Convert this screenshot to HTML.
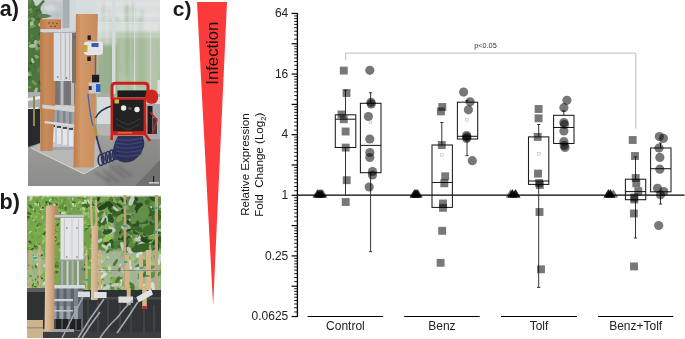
<!DOCTYPE html>
<html><head><meta charset="utf-8">
<style>
html,body{margin:0;padding:0;background:#fff;}
body{width:685px;height:339px;position:relative;overflow:hidden;font-family:"Liberation Sans",sans-serif;}
.pl{font-family:"Liberation Sans",sans-serif;font-size:21px;font-weight:bold;fill:#1a1a1a;}
svg{position:absolute;left:0;top:0;}
.t12{font-family:"Liberation Sans",sans-serif;font-size:12px;fill:#222;}
.tp{font-family:"Liberation Sans",sans-serif;font-size:7.3px;fill:#333;}
.ttl{font-family:"Liberation Sans",sans-serif;font-size:11.6px;fill:#111;}
.m{fill:#000;fill-opacity:0.53;}
.bx{fill:none;stroke:#1a1a1a;stroke-width:1.05;}
.ln{stroke:#1a1a1a;stroke-width:1.05;}
.wl{stroke:#2a2a2a;stroke-width:0.95;}
</style></head><body>
<svg width="685" height="339" viewBox="0 0 685 339" style="position:absolute;left:0;top:0">
<defs>
<clipPath id="ca"><rect x="28" y="0" width="132" height="186"/></clipPath>
<filter id="fa" x="-5%" y="-5%" width="110%" height="110%"><feGaussianBlur stdDeviation="0.55"/></filter>
<filter id="fa2" x="-20%" y="-20%" width="140%" height="140%"><feGaussianBlur stdDeviation="1.6"/></filter>
<linearGradient id="gbgA" x1="0" y1="0" x2="0" y2="1">
<stop offset="0" stop-color="#d8dedf"/><stop offset="0.18" stop-color="#cfd8d4"/><stop offset="0.35" stop-color="#bfcdbd"/><stop offset="0.52" stop-color="#aabd9f"/><stop offset="1" stop-color="#9fb393"/>
</linearGradient>
<linearGradient id="gtab" x1="0" y1="0" x2="0" y2="1">
<stop offset="0" stop-color="#a3a3a1"/><stop offset="1" stop-color="#8c8c8a"/>
</linearGradient>
<linearGradient id="gwood" x1="0" y1="0" x2="1" y2="0">
<stop offset="0" stop-color="#bb784a"/><stop offset="0.35" stop-color="#ca8c5c"/><stop offset="1" stop-color="#bf7f51"/>
</linearGradient>
<linearGradient id="gwood2" x1="0" y1="0" x2="1" y2="0">
<stop offset="0" stop-color="#bd7b4d"/><stop offset="0.3" stop-color="#d19868"/><stop offset="1" stop-color="#c88b5c"/>
</linearGradient>
</defs>
<g clip-path="url(#ca)" filter="url(#fa)">
<rect x="28" y="0" width="132" height="186" fill="url(#gbgA)"/>
<g filter="url(#fa2)">
<rect x="38" y="0" width="26" height="30" fill="#c3c8cc"/>
<ellipse cx="50" cy="8" rx="6" ry="3" fill="#d6dadc"/>
<ellipse cx="58" cy="15" rx="5" ry="2.5" fill="#b7bdc2"/>
<rect x="96" y="0" width="64" height="20" fill="#d9dfde"/>
<rect x="116" y="32" width="44" height="63" fill="#b3c4a9"/>
<rect x="97" y="45" width="20" height="50" fill="#9bb091"/>
<rect x="119.4" y="19.5" width="1.8" height="53.3" fill="#8aa878" opacity="0.35"/>
<rect x="132.2" y="1.7" width="2.2" height="72.8" fill="#8aa878" opacity="0.35"/>
<rect x="102.2" y="2.1" width="2.4" height="54.1" fill="#8aa878" opacity="0.35"/>
<rect x="125.5" y="3.7" width="3.2" height="60.0" fill="#8aa878" opacity="0.35"/>
<rect x="137.6" y="17.3" width="3.4" height="67.9" fill="#8aa878" opacity="0.35"/>
<rect x="158.6" y="25.8" width="1.6" height="63.0" fill="#8aa878" opacity="0.35"/>
<rect x="108.7" y="9.3" width="1.7" height="86.7" fill="#8aa878" opacity="0.35"/>
<rect x="110.8" y="19.2" width="2.7" height="66.8" fill="#8aa878" opacity="0.35"/>
<rect x="132.9" y="1.8" width="1.6" height="59.3" fill="#8aa878" opacity="0.35"/>
<rect x="140.8" y="9.4" width="2.4" height="76.4" fill="#8aa878" opacity="0.35"/>
<rect x="127.2" y="23.8" width="2.1" height="81.5" fill="#8aa878" opacity="0.35"/>
<rect x="114.6" y="15.8" width="2.6" height="89.4" fill="#8aa878" opacity="0.35"/>
<rect x="143.8" y="29.4" width="2.1" height="55.3" fill="#8aa878" opacity="0.35"/>
<rect x="125.1" y="4.6" width="3.0" height="72.0" fill="#8aa878" opacity="0.35"/>
<rect x="96" y="3.5" width="64" height="1.5" fill="#eef1f0" opacity="0.6"/>
<rect x="96" y="27.4" width="64" height="1.5" fill="#eef1f0" opacity="0.6"/>
<rect x="96" y="31.1" width="64" height="1.5" fill="#eef1f0" opacity="0.6"/>
<rect x="96" y="23.8" width="64" height="1.5" fill="#eef1f0" opacity="0.6"/>
<rect x="96" y="35.3" width="64" height="1.5" fill="#eef1f0" opacity="0.6"/>
<rect x="96" y="13.9" width="64" height="1.5" fill="#eef1f0" opacity="0.6"/>
<rect x="96" y="28.4" width="64" height="1.5" fill="#eef1f0" opacity="0.6"/>
<rect x="96" y="24.6" width="64" height="1.5" fill="#eef1f0" opacity="0.6"/>
</g>
<rect x="134" y="0" width="1.2" height="95" fill="#dfe3e2" opacity="0.7"/>
<rect x="150" y="0" width="1.2" height="95" fill="#dfe3e2" opacity="0.6"/>
<rect x="97" y="22" width="63" height="1.2" fill="#e6e9e8" opacity="0.6"/>
<rect x="62.7" y="0" width="7" height="30" fill="#a9b0b5"/>
<rect x="69.7" y="0" width="6" height="30" fill="#d3d8da"/>
<rect x="112" y="0" width="3.5" height="96" fill="#d5dadb"/>
<rect x="157.5" y="80" width="2.5" height="40" fill="#dcdfe0"/>
<rect x="97" y="95" width="63" height="30" fill="#d8dbdc"/>
<rect x="97" y="94" width="63" height="3" fill="#a8b0a8"/>
<rect x="28" y="0" width="12.5" height="100" fill="#4d7440"/>
<ellipse cx="36.1" cy="43.3" rx="3.4" ry="2.0" transform="rotate(85 36.1 43.3)" fill="#a9bfa0"/>
<ellipse cx="28.9" cy="69.5" rx="2.2" ry="1.1" transform="rotate(123 28.9 69.5)" fill="#38602e"/>
<ellipse cx="32.0" cy="36.7" rx="3.0" ry="1.1" transform="rotate(83 32.0 36.7)" fill="#5b8549"/>
<ellipse cx="36.6" cy="46.9" rx="2.0" ry="0.8" transform="rotate(133 36.6 46.9)" fill="#38602e"/>
<ellipse cx="33.5" cy="82.8" rx="1.7" ry="0.8" transform="rotate(99 33.5 82.8)" fill="#5b8549"/>
<ellipse cx="39.5" cy="82.1" rx="2.1" ry="1.0" transform="rotate(65 39.5 82.1)" fill="#38602e"/>
<ellipse cx="41.4" cy="14.3" rx="1.9" ry="0.8" transform="rotate(42 41.4 14.3)" fill="#38602e"/>
<ellipse cx="39.6" cy="17.3" rx="2.1" ry="0.8" transform="rotate(96 39.6 17.3)" fill="#86a872"/>
<ellipse cx="35.9" cy="90.5" rx="3.1" ry="1.5" transform="rotate(111 35.9 90.5)" fill="#a9bfa0"/>
<ellipse cx="38.4" cy="43.4" rx="3.5" ry="2.1" transform="rotate(123 38.4 43.4)" fill="#86a872"/>
<ellipse cx="33.5" cy="37.9" rx="1.7" ry="0.9" transform="rotate(11 33.5 37.9)" fill="#46703a"/>
<ellipse cx="41.8" cy="41.9" rx="1.8" ry="0.9" transform="rotate(18 41.8 41.9)" fill="#86a872"/>
<ellipse cx="30.1" cy="9.6" rx="2.3" ry="0.8" transform="rotate(157 30.1 9.6)" fill="#86a872"/>
<ellipse cx="33.3" cy="60.3" rx="3.7" ry="1.9" transform="rotate(85 33.3 60.3)" fill="#46703a"/>
<ellipse cx="39.9" cy="94.3" rx="2.6" ry="1.2" transform="rotate(15 39.9 94.3)" fill="#46703a"/>
<ellipse cx="38.5" cy="70.3" rx="2.6" ry="1.4" transform="rotate(93 38.5 70.3)" fill="#5b8549"/>
<ellipse cx="41.3" cy="50.2" rx="1.8" ry="0.9" transform="rotate(5 41.3 50.2)" fill="#86a872"/>
<ellipse cx="32.2" cy="61.1" rx="1.7" ry="1.0" transform="rotate(93 32.2 61.1)" fill="#5b8549"/>
<ellipse cx="33.0" cy="21.2" rx="2.7" ry="1.3" transform="rotate(115 33.0 21.2)" fill="#86a872"/>
<ellipse cx="39.4" cy="93.6" rx="3.5" ry="1.9" transform="rotate(147 39.4 93.6)" fill="#a9bfa0"/>
<ellipse cx="39.2" cy="19.0" rx="2.6" ry="1.4" transform="rotate(178 39.2 19.0)" fill="#3a5e30"/>
<ellipse cx="31.9" cy="24.6" rx="3.1" ry="1.8" transform="rotate(81 31.9 24.6)" fill="#a9bfa0"/>
<ellipse cx="41.8" cy="90.7" rx="2.3" ry="0.9" transform="rotate(41 41.8 90.7)" fill="#5b8549"/>
<ellipse cx="32.7" cy="45.9" rx="3.8" ry="1.9" transform="rotate(0 32.7 45.9)" fill="#a9bfa0"/>
<ellipse cx="32.8" cy="61.1" rx="3.4" ry="1.3" transform="rotate(70 32.8 61.1)" fill="#a9bfa0"/>
<ellipse cx="38.5" cy="45.4" rx="1.9" ry="1.0" transform="rotate(60 38.5 45.4)" fill="#3a5e30"/>
<ellipse cx="41.2" cy="68.6" rx="2.6" ry="1.4" transform="rotate(15 41.2 68.6)" fill="#5b8549"/>
<ellipse cx="30.4" cy="12.1" rx="1.8" ry="1.1" transform="rotate(145 30.4 12.1)" fill="#5b8549"/>
<ellipse cx="36.6" cy="56.6" rx="2.6" ry="1.5" transform="rotate(28 36.6 56.6)" fill="#86a872"/>
<ellipse cx="29.8" cy="1.4" rx="3.7" ry="1.9" transform="rotate(95 29.8 1.4)" fill="#5b8549"/>
<ellipse cx="34.1" cy="82.8" rx="3.4" ry="1.4" transform="rotate(45 34.1 82.8)" fill="#6f9a58"/>
<ellipse cx="35.0" cy="72.5" rx="2.2" ry="1.1" transform="rotate(150 35.0 72.5)" fill="#46703a"/>
<ellipse cx="40.7" cy="33.6" rx="2.6" ry="1.3" transform="rotate(163 40.7 33.6)" fill="#38602e"/>
<ellipse cx="39.6" cy="83.4" rx="1.8" ry="0.7" transform="rotate(92 39.6 83.4)" fill="#3a5e30"/>
<ellipse cx="34.2" cy="17.4" rx="1.5" ry="0.8" transform="rotate(31 34.2 17.4)" fill="#38602e"/>
<ellipse cx="36.7" cy="11.4" rx="1.6" ry="0.9" transform="rotate(96 36.7 11.4)" fill="#38602e"/>
<ellipse cx="39.0" cy="10.1" rx="2.8" ry="1.1" transform="rotate(50 39.0 10.1)" fill="#3a5e30"/>
<ellipse cx="29.4" cy="43.0" rx="1.6" ry="0.9" transform="rotate(11 29.4 43.0)" fill="#6f9a58"/>
<ellipse cx="36.6" cy="48.0" rx="2.7" ry="1.4" transform="rotate(81 36.6 48.0)" fill="#86a872"/>
<ellipse cx="39.3" cy="48.2" rx="2.1" ry="1.0" transform="rotate(158 39.3 48.2)" fill="#6f9a58"/>
<ellipse cx="40.9" cy="84.8" rx="2.0" ry="0.9" transform="rotate(75 40.9 84.8)" fill="#38602e"/>
<ellipse cx="34.2" cy="6.9" rx="2.1" ry="0.8" transform="rotate(121 34.2 6.9)" fill="#3a5e30"/>
<ellipse cx="29.7" cy="73.8" rx="3.7" ry="1.9" transform="rotate(66 29.7 73.8)" fill="#6f9a58"/>
<ellipse cx="40.4" cy="91.9" rx="2.0" ry="1.2" transform="rotate(72 40.4 91.9)" fill="#38602e"/>
<ellipse cx="30.3" cy="63.4" rx="2.0" ry="1.1" transform="rotate(179 30.3 63.4)" fill="#38602e"/>
<ellipse cx="32.7" cy="18.6" rx="2.2" ry="1.2" transform="rotate(4 32.7 18.6)" fill="#86a872"/>
<ellipse cx="34.4" cy="66.8" rx="2.4" ry="1.1" transform="rotate(53 34.4 66.8)" fill="#46703a"/>
<ellipse cx="29.6" cy="87.3" rx="2.0" ry="1.2" transform="rotate(15 29.6 87.3)" fill="#6f9a58"/>
<ellipse cx="28.6" cy="74.0" rx="2.1" ry="0.8" transform="rotate(76 28.6 74.0)" fill="#a9bfa0"/>
<ellipse cx="39.5" cy="24.6" rx="1.8" ry="1.1" transform="rotate(103 39.5 24.6)" fill="#a9bfa0"/>
<ellipse cx="32.6" cy="26.5" rx="3.3" ry="1.3" transform="rotate(161 32.6 26.5)" fill="#6f9a58"/>
<ellipse cx="41.1" cy="60.3" rx="3.3" ry="1.2" transform="rotate(154 41.1 60.3)" fill="#46703a"/>
<ellipse cx="31.7" cy="11.6" rx="1.5" ry="0.9" transform="rotate(75 31.7 11.6)" fill="#6f9a58"/>
<ellipse cx="36.7" cy="4.1" rx="3.1" ry="1.8" transform="rotate(174 36.7 4.1)" fill="#6f9a58"/>
<ellipse cx="28.7" cy="19.2" rx="2.2" ry="0.9" transform="rotate(137 28.7 19.2)" fill="#6f9a58"/>
<ellipse cx="34.2" cy="63.9" rx="2.1" ry="1.2" transform="rotate(179 34.2 63.9)" fill="#46703a"/>
<ellipse cx="28.2" cy="69.6" rx="2.8" ry="1.1" transform="rotate(85 28.2 69.6)" fill="#38602e"/>
<ellipse cx="29.5" cy="77.8" rx="2.5" ry="1.2" transform="rotate(150 29.5 77.8)" fill="#38602e"/>
<ellipse cx="41.6" cy="29.2" rx="2.0" ry="0.8" transform="rotate(36 41.6 29.2)" fill="#a9bfa0"/>
<ellipse cx="38.2" cy="13.3" rx="3.8" ry="2.2" transform="rotate(151 38.2 13.3)" fill="#46703a"/>
<path d="M33 0 L44 0 L42 4 L36 6Z" fill="#c9d0d2"/>
<path d="M38 14 Q46 13 52 16 Q46 19 38 18Z" fill="#5a8048"/>
<path d="M36 8 Q40 3 43 0 L45 1 Q41 6 38 10Z" fill="#4d7440"/>
<rect x="28" y="92" width="13" height="16" fill="#a9aeae"/>
<path d="M28 98 L40 96 L40 99 L28 101Z M28 108 L38 107 L38 109 L28 110Z" fill="#e8ebec"/>
<rect x="28" y="109" width="12" height="40" fill="#2b2c2d"/>
<rect x="33" y="96" width="2" height="30" fill="#8c8a50"/>
<polygon points="28,147 40,143 95,124 160,124 160,186 28,186" fill="url(#gtab)"/>
<polygon points="97,124 160,124 160,138 140,136 110,136 97,135" fill="#b4b4b2"/>
<g filter="url(#fa2)"><polygon points="104,186 116,140 160,138 160,186" fill="#6a6a68" opacity="0.3"/></g>
<polygon points="136,186 160,161 160,186" fill="#6f6f6d"/>
<path d="M136 186 L160 161" stroke="#6e6e6c" stroke-width="1.3"/>
<polygon points="31,148 41,143 97,140 101,164 84,174" fill="#b8b8b6"/>
<path d="M31 148 L84 174 L101 164" stroke="#d8d8d6" stroke-width="1" fill="none"/>
<rect x="53" y="32" width="23" height="118" fill="#a3a7ab"/>
<rect x="53.5" y="32" width="21" height="49" fill="#d9dbde"/>
<rect x="60.2" y="33" width="0.9" height="47" fill="#aeb2b6"/><rect x="64.5" y="33" width="0.9" height="47" fill="#aeb2b6"/><rect x="69" y="33" width="0.9" height="47" fill="#aeb2b6"/>
<circle cx="57.5" cy="77" r="0.8" fill="#555"/><circle cx="66.5" cy="78" r="0.8" fill="#555"/>
<rect x="54" y="81" width="21" height="24" fill="#7b7774"/>
<rect x="55" y="81" width="2.5" height="24" fill="#6f757b"/><rect x="60.5" y="81" width="3" height="24" fill="#b9bec2"/><rect x="66" y="81" width="2.5" height="24" fill="#6f757b"/><rect x="71" y="81" width="3" height="24" fill="#b9bec2"/>
<polygon points="44,104 76,106 76,113 44,109" fill="#cfd1d2"/>
<rect x="50" y="110" width="26" height="12" fill="#9ca2a8"/>
<rect x="51" y="110" width="2.5" height="14" fill="#7f868d"/><rect x="57" y="110" width="2.5" height="15" fill="#7f868d"/><rect x="63" y="111" width="2.5" height="15" fill="#7f868d"/><rect x="69" y="112" width="2.5" height="15" fill="#7f868d"/>
<polygon points="45,121 76,125 76,128 45,124" fill="#d6d8d9"/>
<rect x="50" y="125" width="26" height="22" fill="#c3c7ca"/>
<rect x="51" y="126" width="4" height="16" fill="#e4e7e9"/><rect x="57" y="127" width="4" height="17" fill="#e4e7e9"/><rect x="63" y="128" width="4" height="17" fill="#e4e7e9"/><rect x="69" y="129" width="4" height="17" fill="#e4e7e9"/>
<rect x="51" y="125" width="4" height="2" fill="#4a4e52"/><rect x="57" y="126" width="4" height="2" fill="#4a4e52"/><rect x="63" y="127" width="4" height="2" fill="#4a4e52"/><rect x="69" y="128" width="4" height="2" fill="#4a4e52"/>
<polygon points="40.5,28.8 78,27.8 78,31.8 40.5,32.6" fill="#d3d6d9"/>
<polygon points="40.5,32.6 78,31.8 78,33 40.5,33.6" fill="#8e9296"/>
<rect x="40" y="19.3" width="21" height="9.8" fill="url(#gwood)"/>
<polygon points="40,33 55,33 55.5,81 55,104 52.5,151 40.5,151" fill="url(#gwood)"/>
<circle cx="49" cy="23" r="0.75" fill="#5b3b25"/>
<circle cx="53" cy="23" r="0.75" fill="#5b3b25"/>
<circle cx="57" cy="23.5" r="0.75" fill="#5b3b25"/>
<circle cx="51" cy="26.5" r="0.75" fill="#5b3b25"/>
<circle cx="55" cy="26.5" r="0.75" fill="#5b3b25"/>
<rect x="53.7" y="32.6" width="20.8" height="48.4" fill="#dcdee1"/>
<rect x="60.4" y="33" width="0.9" height="47" fill="#aeb2b6"/><rect x="64.8" y="33" width="0.9" height="47" fill="#aeb2b6"/><rect x="69.3" y="33" width="0.9" height="47" fill="#aeb2b6"/>
<circle cx="57.8" cy="77" r="0.8" fill="#555"/><circle cx="66.5" cy="78" r="0.8" fill="#555"/>
<polygon points="42.3,104.5 76.5,108.5 76.5,112.5 42.3,108.3" fill="#cfd1d2"/>
<polygon points="44.6,121 74,124.5 74,126.5 44.6,123.2" fill="#d6d8d9"/>
<polygon points="76,13.9 98,13.9 94,167.5 73.5,167.5" fill="url(#gwood2)"/>
<rect x="72" y="33" width="4" height="50" fill="#7d7264"/>
<rect x="73.5" y="36" width="2" height="3" fill="#3d62b5"/>
<rect x="84" y="41.5" width="19" height="13.5" rx="3" fill="#e3e5e8"/>
<rect x="82.5" y="45" width="5" height="7" rx="1" fill="#c9a23a"/>
<rect x="91.5" y="43" width="7" height="4" fill="#3e5ca8"/>
<rect x="87.6" y="35.4" width="3.2" height="4.5" fill="#1e1e20"/>
<rect x="87.3" y="56.5" width="3.5" height="4.5" fill="#1e1e20"/>
<path d="M95.5 55 C95.5 62 95.3 68 95.6 76" stroke="#3a64c0" stroke-width="1.3" fill="none"/>
<path d="M88 94 C89 105 90 115 93 126" stroke="#3a64c0" stroke-width="1.3" fill="none"/>
<rect x="92" y="74.8" width="7.2" height="8" fill="#1d1e22"/>
<rect x="88.7" y="82.4" width="11.8" height="11" fill="#c4cbd6"/>
<rect x="96" y="84" width="4.5" height="8" fill="#2f5fc0"/>
<rect x="88.7" y="86" width="3" height="4" fill="#333"/>
<polygon points="92.5,125 95.5,124 98,136 95,137" fill="#b88e3e"/>
<path d="M96.5 136 C98 145 101 152 104 160" stroke="#2a2f55" stroke-width="1.6" fill="none"/>
<path d="M113 105.5 C104 108 98 112 95.5 118" stroke="#2a2f55" stroke-width="1.3" fill="none"/>
<rect x="117.4" y="90.4" width="29.4" height="7" fill="#1c1c1e"/>
<path d="M112 99 L112 86.5 Q112 83.3 115.5 83.3 L144.5 83.3 Q148 83.3 148 86.5 L148 99" stroke="#c9221d" stroke-width="3" fill="none"/>
<rect x="145.5" y="89.8" width="12.5" height="14" rx="5.5" fill="#cf2722"/>
<rect x="147" y="104" width="13" height="35" fill="#a7abad"/>
<rect x="147.5" y="106" width="5" height="28" fill="#1c1c1e"/>
<rect x="153" y="118" width="4" height="16" fill="#3a3b3d"/>
<path d="M150 112 L157 120 L152 134" stroke="#c9221d" stroke-width="1.5" fill="none"/>
<path d="M145 104 L145 134 L150 141" stroke="#c9221d" stroke-width="2.6" fill="none"/>
<rect x="110.6" y="97.4" width="35.6" height="38" fill="#c9221d"/>
<rect x="113" y="99.8" width="30.6" height="31.4" fill="#202022"/>
<path d="M116 119 L128 125 L140 119 M116 124 L128 130 L140 124" stroke="#3c3c3e" stroke-width="1" fill="none"/>
<circle cx="123.6" cy="108" r="2.7" fill="#ececec"/><circle cx="137" cy="109.5" r="2.7" fill="#ececec"/><circle cx="130" cy="108.5" r="1.8" fill="#505052"/>
<rect x="114.5" y="99.5" width="4.5" height="4" fill="#dcb52c"/>
<rect x="118" y="132.2" width="14" height="1.2" fill="#e87b34"/>
<rect x="110.4" y="135" width="2.6" height="5" fill="#c9221d"/>
<path d="M118 136 L143 136 L144 146 Q141 158 130 162 Q120 164 114 157 Q111 148 118 136Z" fill="#2e3358"/>
<ellipse cx="101.0" cy="160.0" rx="2.8" ry="5.5" fill="none" stroke="#2b305a" stroke-width="1.7"/>
<ellipse cx="104.6" cy="158.5" rx="2.8" ry="5.5" fill="none" stroke="#2b305a" stroke-width="1.7"/>
<ellipse cx="108.2" cy="157.0" rx="2.8" ry="5.5" fill="none" stroke="#2b305a" stroke-width="1.7"/>
<ellipse cx="111.8" cy="155.5" rx="2.8" ry="5.5" fill="none" stroke="#2b305a" stroke-width="1.7"/>
<ellipse cx="115.4" cy="154.0" rx="2.8" ry="5.5" fill="none" stroke="#2b305a" stroke-width="1.7"/>
<ellipse cx="119.0" cy="152.5" rx="2.8" ry="5.5" fill="none" stroke="#2b305a" stroke-width="1.7"/>
<ellipse cx="122.6" cy="151.0" rx="2.8" ry="5.5" fill="none" stroke="#2b305a" stroke-width="1.7"/>
<ellipse cx="126.2" cy="149.5" rx="2.8" ry="5.5" fill="none" stroke="#2b305a" stroke-width="1.7"/>
<ellipse cx="129.8" cy="148.0" rx="2.8" ry="5.5" fill="none" stroke="#2b305a" stroke-width="1.7"/>
<ellipse cx="133.4" cy="146.5" rx="2.8" ry="5.5" fill="none" stroke="#2b305a" stroke-width="1.7"/>
<ellipse cx="137.0" cy="145.0" rx="2.8" ry="5.5" fill="none" stroke="#2b305a" stroke-width="1.7"/>
<ellipse cx="140.6" cy="143.5" rx="2.8" ry="5.5" fill="none" stroke="#2b305a" stroke-width="1.7"/>
<path d="M116 139.0 Q128 142.0 142 138.0" stroke="#4b5385" stroke-width="1" fill="none" opacity="0.8"/>
<path d="M116 143.0 Q128 146.0 142 142.0" stroke="#4b5385" stroke-width="1" fill="none" opacity="0.8"/>
<path d="M116 147.0 Q128 150.0 142 146.0" stroke="#4b5385" stroke-width="1" fill="none" opacity="0.8"/>
<path d="M116 151.0 Q128 154.0 142 150.0" stroke="#4b5385" stroke-width="1" fill="none" opacity="0.8"/>
<path d="M116 155.0 Q128 158.0 142 154.0" stroke="#4b5385" stroke-width="1" fill="none" opacity="0.8"/>
<g filter="url(#fa2)"><path d="M95 172 L110 182 M103 170 L118 182 M110 166 L126 178 M118 166 L132 176" stroke="#5e5e5e" stroke-width="2.5" opacity="0.55"/></g>
<rect x="153" y="176" width="1.2" height="8" fill="#1e1e1e"/>
<rect x="149" y="182" width="10" height="1.6" fill="#c9c9c9"/>
</g></svg>
<svg width="685" height="339" viewBox="0 0 685 339" style="position:absolute;left:0;top:0">
<defs>
<clipPath id="cb"><rect x="27" y="195" width="134" height="143"/></clipPath>
<filter id="fb" x="-5%" y="-5%" width="110%" height="110%"><feGaussianBlur stdDeviation="0.5"/></filter>
<filter id="fb2" x="-20%" y="-20%" width="140%" height="140%"><feGaussianBlur stdDeviation="1.5"/></filter>
<linearGradient id="gwoodb" x1="0" y1="0" x2="1" y2="0">
<stop offset="0" stop-color="#e2c6a4"/><stop offset="0.45" stop-color="#d4ad84"/><stop offset="1" stop-color="#b3835b"/>
</linearGradient>
<linearGradient id="gwoodc" x1="0" y1="0" x2="1" y2="0">
<stop offset="0" stop-color="#e3c6a2"/><stop offset="1" stop-color="#c9a27c"/>
</linearGradient>
</defs>
<g clip-path="url(#cb)" filter="url(#fb)">
<rect x="27" y="195" width="134" height="143" fill="#76a04e"/>
<g filter="url(#fb2)">
<rect x="27" y="195" width="32" height="95" fill="#7aa84f"/>
<rect x="98" y="195" width="63" height="55" fill="#5e8446"/>
<rect x="98" y="250" width="63" height="42" fill="#a3b397"/>
<rect x="103" y="212" width="10" height="26" fill="#b9c4b2"/>
<rect x="127" y="214" width="11" height="24" fill="#a6b59c"/>
<rect x="27" y="250" width="18" height="40" fill="#9db487"/>
</g>
<ellipse cx="29.3" cy="265.4" rx="1.5" ry="0.6" transform="rotate(15 29.3 265.4)" fill="#35622a"/>
<ellipse cx="55.7" cy="258.7" rx="1.6" ry="0.6" transform="rotate(53 55.7 258.7)" fill="#6ea443"/>
<ellipse cx="33.1" cy="220.6" rx="1.0" ry="0.4" transform="rotate(59 33.1 220.6)" fill="#8cbc5a"/>
<ellipse cx="35.1" cy="286.7" rx="1.6" ry="0.7" transform="rotate(0 35.1 286.7)" fill="#35622a"/>
<ellipse cx="29.8" cy="221.5" rx="2.3" ry="1.0" transform="rotate(140 29.8 221.5)" fill="#7fb24c"/>
<ellipse cx="35.7" cy="203.5" rx="1.8" ry="0.6" transform="rotate(4 35.7 203.5)" fill="#c6d8b8"/>
<ellipse cx="47.8" cy="203.0" rx="2.9" ry="1.6" transform="rotate(28 47.8 203.0)" fill="#35622a"/>
<ellipse cx="52.2" cy="263.5" rx="2.0" ry="0.8" transform="rotate(111 52.2 263.5)" fill="#9cc66c"/>
<ellipse cx="28.4" cy="274.4" rx="2.8" ry="1.4" transform="rotate(132 28.4 274.4)" fill="#9cc66c"/>
<ellipse cx="57.0" cy="266.5" rx="2.1" ry="1.2" transform="rotate(3 57.0 266.5)" fill="#3f7429"/>
<ellipse cx="29.8" cy="199.0" rx="2.3" ry="1.3" transform="rotate(68 29.8 199.0)" fill="#6ea443"/>
<ellipse cx="45.4" cy="254.6" rx="2.3" ry="1.2" transform="rotate(88 45.4 254.6)" fill="#5f9438"/>
<ellipse cx="42.1" cy="201.7" rx="2.9" ry="1.6" transform="rotate(17 42.1 201.7)" fill="#7fb24c"/>
<ellipse cx="51.6" cy="240.0" rx="2.6" ry="1.5" transform="rotate(42 51.6 240.0)" fill="#3f7429"/>
<ellipse cx="34.6" cy="256.7" rx="1.9" ry="1.1" transform="rotate(14 34.6 256.7)" fill="#c6d8b8"/>
<ellipse cx="52.3" cy="253.6" rx="2.3" ry="0.8" transform="rotate(27 52.3 253.6)" fill="#c6d8b8"/>
<ellipse cx="48.5" cy="260.8" rx="2.2" ry="0.9" transform="rotate(87 48.5 260.8)" fill="#6ea443"/>
<ellipse cx="35.9" cy="258.8" rx="2.4" ry="1.2" transform="rotate(52 35.9 258.8)" fill="#c6d8b8"/>
<ellipse cx="42.3" cy="239.3" rx="1.2" ry="0.7" transform="rotate(36 42.3 239.3)" fill="#7fb24c"/>
<ellipse cx="57.9" cy="196.7" rx="1.9" ry="1.1" transform="rotate(174 57.9 196.7)" fill="#6ea443"/>
<ellipse cx="59.8" cy="231.8" rx="2.8" ry="1.7" transform="rotate(13 59.8 231.8)" fill="#7fb24c"/>
<ellipse cx="31.7" cy="244.8" rx="2.9" ry="1.1" transform="rotate(148 31.7 244.8)" fill="#c6d8b8"/>
<ellipse cx="56.3" cy="261.8" rx="1.5" ry="0.8" transform="rotate(88 56.3 261.8)" fill="#5f9438"/>
<ellipse cx="32.2" cy="285.2" rx="2.4" ry="1.1" transform="rotate(131 32.2 285.2)" fill="#35622a"/>
<ellipse cx="38.4" cy="225.0" rx="2.7" ry="0.9" transform="rotate(135 38.4 225.0)" fill="#35622a"/>
<ellipse cx="31.0" cy="283.0" rx="2.4" ry="1.4" transform="rotate(52 31.0 283.0)" fill="#8cbc5a"/>
<ellipse cx="29.1" cy="232.1" rx="2.7" ry="1.0" transform="rotate(167 29.1 232.1)" fill="#c6d8b8"/>
<ellipse cx="55.2" cy="221.7" rx="1.1" ry="0.6" transform="rotate(114 55.2 221.7)" fill="#9cc66c"/>
<ellipse cx="35.2" cy="220.2" rx="2.0" ry="0.8" transform="rotate(67 35.2 220.2)" fill="#35622a"/>
<ellipse cx="56.2" cy="272.1" rx="2.3" ry="1.3" transform="rotate(169 56.2 272.1)" fill="#3f7429"/>
<ellipse cx="50.7" cy="199.7" rx="2.5" ry="1.1" transform="rotate(135 50.7 199.7)" fill="#c6d8b8"/>
<ellipse cx="43.0" cy="281.6" rx="2.1" ry="0.8" transform="rotate(75 43.0 281.6)" fill="#c6d8b8"/>
<ellipse cx="36.8" cy="265.2" rx="3.0" ry="1.2" transform="rotate(118 36.8 265.2)" fill="#c6d8b8"/>
<ellipse cx="42.9" cy="258.5" rx="1.2" ry="0.6" transform="rotate(14 42.9 258.5)" fill="#6ea443"/>
<ellipse cx="45.2" cy="238.0" rx="1.7" ry="0.9" transform="rotate(77 45.2 238.0)" fill="#3f7429"/>
<ellipse cx="35.1" cy="211.6" rx="2.1" ry="0.9" transform="rotate(66 35.1 211.6)" fill="#3f7429"/>
<ellipse cx="56.3" cy="266.2" rx="1.8" ry="0.8" transform="rotate(94 56.3 266.2)" fill="#35622a"/>
<ellipse cx="35.9" cy="266.5" rx="2.0" ry="1.0" transform="rotate(65 35.9 266.5)" fill="#3f7429"/>
<ellipse cx="30.1" cy="280.2" rx="1.8" ry="0.9" transform="rotate(78 30.1 280.2)" fill="#c6d8b8"/>
<ellipse cx="55.0" cy="277.9" rx="1.0" ry="0.4" transform="rotate(128 55.0 277.9)" fill="#6ea443"/>
<ellipse cx="59.0" cy="241.5" rx="1.1" ry="0.7" transform="rotate(167 59.0 241.5)" fill="#6ea443"/>
<ellipse cx="59.1" cy="218.6" rx="1.2" ry="0.5" transform="rotate(94 59.1 218.6)" fill="#7fb24c"/>
<ellipse cx="58.1" cy="263.6" rx="2.3" ry="1.2" transform="rotate(82 58.1 263.6)" fill="#5f9438"/>
<ellipse cx="27.0" cy="206.9" rx="2.1" ry="0.8" transform="rotate(129 27.0 206.9)" fill="#9cc66c"/>
<ellipse cx="47.7" cy="245.2" rx="1.9" ry="1.0" transform="rotate(18 47.7 245.2)" fill="#c6d8b8"/>
<ellipse cx="44.3" cy="250.4" rx="1.8" ry="0.7" transform="rotate(108 44.3 250.4)" fill="#5f9438"/>
<ellipse cx="44.7" cy="289.7" rx="1.6" ry="0.7" transform="rotate(151 44.7 289.7)" fill="#3f7429"/>
<ellipse cx="42.7" cy="217.3" rx="1.5" ry="0.9" transform="rotate(127 42.7 217.3)" fill="#c6d8b8"/>
<ellipse cx="28.8" cy="213.4" rx="2.8" ry="1.4" transform="rotate(15 28.8 213.4)" fill="#3f7429"/>
<ellipse cx="49.0" cy="282.9" rx="1.5" ry="0.5" transform="rotate(61 49.0 282.9)" fill="#35622a"/>
<ellipse cx="39.0" cy="232.7" rx="1.0" ry="0.4" transform="rotate(152 39.0 232.7)" fill="#7fb24c"/>
<ellipse cx="33.8" cy="287.1" rx="1.6" ry="0.9" transform="rotate(42 33.8 287.1)" fill="#3f7429"/>
<ellipse cx="35.7" cy="279.5" rx="1.2" ry="0.6" transform="rotate(110 35.7 279.5)" fill="#3f7429"/>
<ellipse cx="43.0" cy="281.5" rx="1.1" ry="0.6" transform="rotate(166 43.0 281.5)" fill="#5f9438"/>
<ellipse cx="34.0" cy="287.5" rx="1.3" ry="0.5" transform="rotate(11 34.0 287.5)" fill="#35622a"/>
<ellipse cx="41.8" cy="262.6" rx="1.6" ry="0.6" transform="rotate(14 41.8 262.6)" fill="#9cc66c"/>
<ellipse cx="37.9" cy="212.6" rx="2.9" ry="1.5" transform="rotate(6 37.9 212.6)" fill="#35622a"/>
<ellipse cx="54.7" cy="288.6" rx="1.9" ry="0.7" transform="rotate(14 54.7 288.6)" fill="#7fb24c"/>
<ellipse cx="38.6" cy="285.8" rx="1.2" ry="0.7" transform="rotate(37 38.6 285.8)" fill="#8cbc5a"/>
<ellipse cx="52.4" cy="224.3" rx="2.6" ry="1.0" transform="rotate(127 52.4 224.3)" fill="#3f7429"/>
<ellipse cx="39.3" cy="282.4" rx="1.4" ry="0.6" transform="rotate(161 39.3 282.4)" fill="#5f9438"/>
<ellipse cx="47.8" cy="218.6" rx="2.3" ry="1.0" transform="rotate(68 47.8 218.6)" fill="#6ea443"/>
<ellipse cx="29.1" cy="282.4" rx="1.5" ry="0.8" transform="rotate(162 29.1 282.4)" fill="#8cbc5a"/>
<ellipse cx="39.0" cy="226.8" rx="2.9" ry="1.0" transform="rotate(134 39.0 226.8)" fill="#8cbc5a"/>
<ellipse cx="57.5" cy="223.3" rx="2.4" ry="1.2" transform="rotate(145 57.5 223.3)" fill="#7fb24c"/>
<ellipse cx="27.8" cy="217.2" rx="2.0" ry="1.1" transform="rotate(172 27.8 217.2)" fill="#35622a"/>
<ellipse cx="53.1" cy="281.8" rx="2.6" ry="1.0" transform="rotate(89 53.1 281.8)" fill="#5f9438"/>
<ellipse cx="53.5" cy="265.2" rx="2.6" ry="1.4" transform="rotate(109 53.5 265.2)" fill="#8cbc5a"/>
<ellipse cx="55.4" cy="238.8" rx="2.6" ry="1.3" transform="rotate(92 55.4 238.8)" fill="#35622a"/>
<ellipse cx="51.8" cy="218.5" rx="1.1" ry="0.4" transform="rotate(99 51.8 218.5)" fill="#8cbc5a"/>
<ellipse cx="32.3" cy="235.5" rx="1.2" ry="0.4" transform="rotate(112 32.3 235.5)" fill="#3f7429"/>
<ellipse cx="30.2" cy="242.4" rx="2.4" ry="1.1" transform="rotate(42 30.2 242.4)" fill="#35622a"/>
<ellipse cx="42.2" cy="279.7" rx="1.5" ry="0.7" transform="rotate(139 42.2 279.7)" fill="#7fb24c"/>
<ellipse cx="52.7" cy="222.9" rx="1.6" ry="0.6" transform="rotate(46 52.7 222.9)" fill="#c6d8b8"/>
<ellipse cx="33.6" cy="218.5" rx="1.5" ry="0.6" transform="rotate(159 33.6 218.5)" fill="#3f7429"/>
<ellipse cx="37.8" cy="232.6" rx="3.0" ry="1.4" transform="rotate(42 37.8 232.6)" fill="#7fb24c"/>
<ellipse cx="48.6" cy="289.1" rx="1.2" ry="0.6" transform="rotate(147 48.6 289.1)" fill="#6ea443"/>
<ellipse cx="57.2" cy="198.8" rx="1.6" ry="0.6" transform="rotate(34 57.2 198.8)" fill="#3f7429"/>
<ellipse cx="57.7" cy="230.4" rx="2.7" ry="1.3" transform="rotate(47 57.7 230.4)" fill="#5f9438"/>
<ellipse cx="30.5" cy="251.6" rx="2.2" ry="0.9" transform="rotate(66 30.5 251.6)" fill="#9cc66c"/>
<ellipse cx="28.5" cy="290.0" rx="1.1" ry="0.6" transform="rotate(165 28.5 290.0)" fill="#5f9438"/>
<ellipse cx="54.0" cy="233.9" rx="1.7" ry="0.9" transform="rotate(14 54.0 233.9)" fill="#5f9438"/>
<ellipse cx="53.2" cy="247.1" rx="1.1" ry="0.4" transform="rotate(71 53.2 247.1)" fill="#9cc66c"/>
<ellipse cx="48.1" cy="203.7" rx="1.3" ry="0.7" transform="rotate(74 48.1 203.7)" fill="#c6d8b8"/>
<ellipse cx="49.0" cy="234.7" rx="1.1" ry="0.6" transform="rotate(159 49.0 234.7)" fill="#35622a"/>
<ellipse cx="40.7" cy="277.1" rx="3.0" ry="1.3" transform="rotate(35 40.7 277.1)" fill="#35622a"/>
<ellipse cx="33.7" cy="195.6" rx="2.8" ry="1.3" transform="rotate(148 33.7 195.6)" fill="#35622a"/>
<ellipse cx="46.1" cy="229.6" rx="2.5" ry="1.0" transform="rotate(9 46.1 229.6)" fill="#9cc66c"/>
<ellipse cx="48.1" cy="281.4" rx="1.2" ry="0.6" transform="rotate(67 48.1 281.4)" fill="#9cc66c"/>
<ellipse cx="31.8" cy="221.9" rx="2.0" ry="1.2" transform="rotate(20 31.8 221.9)" fill="#6ea443"/>
<ellipse cx="51.9" cy="270.3" rx="2.6" ry="1.1" transform="rotate(151 51.9 270.3)" fill="#5f9438"/>
<ellipse cx="59.2" cy="240.9" rx="1.1" ry="0.6" transform="rotate(70 59.2 240.9)" fill="#9cc66c"/>
<ellipse cx="48.1" cy="276.4" rx="2.2" ry="1.1" transform="rotate(35 48.1 276.4)" fill="#6ea443"/>
<ellipse cx="33.0" cy="215.7" rx="1.8" ry="0.9" transform="rotate(69 33.0 215.7)" fill="#7fb24c"/>
<ellipse cx="31.9" cy="287.2" rx="2.6" ry="1.0" transform="rotate(159 31.9 287.2)" fill="#5f9438"/>
<ellipse cx="49.0" cy="225.8" rx="1.8" ry="0.8" transform="rotate(153 49.0 225.8)" fill="#c6d8b8"/>
<ellipse cx="48.4" cy="224.3" rx="1.5" ry="0.7" transform="rotate(66 48.4 224.3)" fill="#6ea443"/>
<ellipse cx="32.9" cy="195.3" rx="3.0" ry="1.4" transform="rotate(80 32.9 195.3)" fill="#6ea443"/>
<ellipse cx="54.6" cy="272.0" rx="1.8" ry="0.7" transform="rotate(65 54.6 272.0)" fill="#8cbc5a"/>
<ellipse cx="30.0" cy="237.0" rx="2.0" ry="0.7" transform="rotate(115 30.0 237.0)" fill="#7fb24c"/>
<ellipse cx="57.4" cy="224.8" rx="2.4" ry="0.9" transform="rotate(135 57.4 224.8)" fill="#35622a"/>
<ellipse cx="48.5" cy="269.5" rx="1.1" ry="0.4" transform="rotate(111 48.5 269.5)" fill="#7fb24c"/>
<ellipse cx="33.4" cy="288.3" rx="2.0" ry="1.2" transform="rotate(165 33.4 288.3)" fill="#9cc66c"/>
<ellipse cx="49.6" cy="263.5" rx="1.4" ry="0.8" transform="rotate(110 49.6 263.5)" fill="#c6d8b8"/>
<ellipse cx="32.2" cy="280.2" rx="1.5" ry="0.9" transform="rotate(26 32.2 280.2)" fill="#6ea443"/>
<ellipse cx="33.9" cy="220.0" rx="2.0" ry="0.9" transform="rotate(7 33.9 220.0)" fill="#9cc66c"/>
<ellipse cx="40.3" cy="255.5" rx="1.6" ry="0.7" transform="rotate(68 40.3 255.5)" fill="#c6d8b8"/>
<ellipse cx="30.8" cy="245.4" rx="2.3" ry="1.0" transform="rotate(157 30.8 245.4)" fill="#7fb24c"/>
<ellipse cx="35.3" cy="245.9" rx="2.7" ry="1.5" transform="rotate(67 35.3 245.9)" fill="#35622a"/>
<ellipse cx="59.7" cy="249.8" rx="1.7" ry="0.9" transform="rotate(80 59.7 249.8)" fill="#9cc66c"/>
<ellipse cx="47.3" cy="286.0" rx="1.6" ry="0.8" transform="rotate(56 47.3 286.0)" fill="#8cbc5a"/>
<ellipse cx="51.2" cy="266.0" rx="1.4" ry="0.6" transform="rotate(113 51.2 266.0)" fill="#35622a"/>
<ellipse cx="43.9" cy="280.1" rx="1.3" ry="0.5" transform="rotate(118 43.9 280.1)" fill="#5f9438"/>
<ellipse cx="28.8" cy="248.9" rx="1.6" ry="0.8" transform="rotate(96 28.8 248.9)" fill="#35622a"/>
<ellipse cx="46.3" cy="251.0" rx="1.4" ry="0.7" transform="rotate(85 46.3 251.0)" fill="#9cc66c"/>
<ellipse cx="27.5" cy="271.1" rx="2.4" ry="1.1" transform="rotate(11 27.5 271.1)" fill="#9cc66c"/>
<ellipse cx="55.8" cy="269.3" rx="1.8" ry="0.8" transform="rotate(2 55.8 269.3)" fill="#8cbc5a"/>
<ellipse cx="46.6" cy="250.0" rx="2.2" ry="1.1" transform="rotate(89 46.6 250.0)" fill="#9cc66c"/>
<ellipse cx="56.8" cy="199.2" rx="2.1" ry="0.9" transform="rotate(43 56.8 199.2)" fill="#5f9438"/>
<ellipse cx="57.1" cy="205.0" rx="2.2" ry="1.1" transform="rotate(36 57.1 205.0)" fill="#35622a"/>
<ellipse cx="33.6" cy="252.8" rx="2.0" ry="1.0" transform="rotate(146 33.6 252.8)" fill="#9cc66c"/>
<ellipse cx="43.8" cy="201.1" rx="2.3" ry="1.3" transform="rotate(130 43.8 201.1)" fill="#6ea443"/>
<ellipse cx="50.6" cy="195.6" rx="2.7" ry="1.4" transform="rotate(84 50.6 195.6)" fill="#6ea443"/>
<ellipse cx="32.8" cy="289.7" rx="1.5" ry="0.8" transform="rotate(22 32.8 289.7)" fill="#c6d8b8"/>
<ellipse cx="50.5" cy="220.3" rx="2.1" ry="1.0" transform="rotate(142 50.5 220.3)" fill="#c6d8b8"/>
<ellipse cx="36.8" cy="283.2" rx="2.8" ry="1.0" transform="rotate(91 36.8 283.2)" fill="#9cc66c"/>
<ellipse cx="35.6" cy="217.4" rx="2.5" ry="1.5" transform="rotate(134 35.6 217.4)" fill="#8cbc5a"/>
<ellipse cx="33.3" cy="231.9" rx="2.2" ry="1.0" transform="rotate(153 33.3 231.9)" fill="#6ea443"/>
<ellipse cx="42.6" cy="245.4" rx="1.0" ry="0.4" transform="rotate(172 42.6 245.4)" fill="#3f7429"/>
<ellipse cx="45.8" cy="224.2" rx="1.4" ry="0.7" transform="rotate(14 45.8 224.2)" fill="#9cc66c"/>
<ellipse cx="31.8" cy="197.6" rx="1.2" ry="0.7" transform="rotate(62 31.8 197.6)" fill="#9cc66c"/>
<ellipse cx="50.1" cy="197.9" rx="1.3" ry="0.7" transform="rotate(8 50.1 197.9)" fill="#7fb24c"/>
<ellipse cx="51.3" cy="201.2" rx="2.2" ry="1.0" transform="rotate(147 51.3 201.2)" fill="#7fb24c"/>
<ellipse cx="56.0" cy="266.8" rx="2.4" ry="1.1" transform="rotate(44 56.0 266.8)" fill="#3f7429"/>
<ellipse cx="30.7" cy="198.3" rx="2.7" ry="1.5" transform="rotate(114 30.7 198.3)" fill="#c6d8b8"/>
<ellipse cx="42.7" cy="207.6" rx="2.6" ry="1.3" transform="rotate(53 42.7 207.6)" fill="#8cbc5a"/>
<ellipse cx="41.0" cy="197.0" rx="1.5" ry="0.6" transform="rotate(129 41.0 197.0)" fill="#8cbc5a"/>
<ellipse cx="57.0" cy="268.1" rx="2.2" ry="1.0" transform="rotate(52 57.0 268.1)" fill="#5f9438"/>
<ellipse cx="53.0" cy="198.0" rx="2.0" ry="0.8" transform="rotate(84 53.0 198.0)" fill="#5f9438"/>
<ellipse cx="44.8" cy="215.6" rx="2.7" ry="1.0" transform="rotate(148 44.8 215.6)" fill="#9cc66c"/>
<ellipse cx="41.4" cy="244.7" rx="1.6" ry="0.8" transform="rotate(10 41.4 244.7)" fill="#8cbc5a"/>
<ellipse cx="43.2" cy="241.7" rx="2.6" ry="1.0" transform="rotate(89 43.2 241.7)" fill="#8cbc5a"/>
<ellipse cx="58.6" cy="243.9" rx="2.2" ry="0.8" transform="rotate(147 58.6 243.9)" fill="#3f7429"/>
<ellipse cx="43.4" cy="205.4" rx="2.3" ry="0.8" transform="rotate(142 43.4 205.4)" fill="#7fb24c"/>
<ellipse cx="47.7" cy="228.8" rx="1.8" ry="0.8" transform="rotate(160 47.7 228.8)" fill="#7fb24c"/>
<ellipse cx="40.9" cy="256.4" rx="1.7" ry="0.7" transform="rotate(77 40.9 256.4)" fill="#9cc66c"/>
<ellipse cx="39.5" cy="279.0" rx="1.5" ry="0.7" transform="rotate(96 39.5 279.0)" fill="#5f9438"/>
<ellipse cx="38.5" cy="226.0" rx="1.3" ry="0.7" transform="rotate(119 38.5 226.0)" fill="#8cbc5a"/>
<ellipse cx="32.6" cy="236.7" rx="2.5" ry="1.3" transform="rotate(23 32.6 236.7)" fill="#6ea443"/>
<ellipse cx="48.2" cy="261.2" rx="2.0" ry="0.8" transform="rotate(136 48.2 261.2)" fill="#9cc66c"/>
<ellipse cx="50.9" cy="287.6" rx="2.4" ry="1.2" transform="rotate(63 50.9 287.6)" fill="#3f7429"/>
<ellipse cx="37.8" cy="213.0" rx="3.0" ry="1.6" transform="rotate(18 37.8 213.0)" fill="#7fb24c"/>
<ellipse cx="33.4" cy="209.3" rx="1.3" ry="0.6" transform="rotate(54 33.4 209.3)" fill="#c6d8b8"/>
<ellipse cx="33.5" cy="255.6" rx="1.2" ry="0.5" transform="rotate(70 33.5 255.6)" fill="#5f9438"/>
<ellipse cx="27.4" cy="276.2" rx="1.9" ry="0.8" transform="rotate(177 27.4 276.2)" fill="#c6d8b8"/>
<ellipse cx="42.3" cy="208.5" rx="2.2" ry="1.0" transform="rotate(133 42.3 208.5)" fill="#35622a"/>
<ellipse cx="50.1" cy="250.8" rx="2.3" ry="1.3" transform="rotate(120 50.1 250.8)" fill="#3f7429"/>
<ellipse cx="49.4" cy="255.9" rx="1.9" ry="0.8" transform="rotate(113 49.4 255.9)" fill="#7fb24c"/>
<ellipse cx="56.5" cy="218.0" rx="1.8" ry="1.0" transform="rotate(28 56.5 218.0)" fill="#35622a"/>
<ellipse cx="42.9" cy="196.9" rx="2.7" ry="1.3" transform="rotate(119 42.9 196.9)" fill="#9cc66c"/>
<ellipse cx="56.5" cy="226.2" rx="1.0" ry="0.6" transform="rotate(163 56.5 226.2)" fill="#7fb24c"/>
<ellipse cx="28.3" cy="246.6" rx="1.3" ry="0.7" transform="rotate(169 28.3 246.6)" fill="#8cbc5a"/>
<ellipse cx="30.3" cy="249.6" rx="2.1" ry="1.1" transform="rotate(92 30.3 249.6)" fill="#8cbc5a"/>
<ellipse cx="44.2" cy="234.0" rx="2.9" ry="1.2" transform="rotate(123 44.2 234.0)" fill="#35622a"/>
<ellipse cx="44.0" cy="283.6" rx="2.5" ry="1.2" transform="rotate(115 44.0 283.6)" fill="#c6d8b8"/>
<ellipse cx="36.1" cy="233.0" rx="1.0" ry="0.5" transform="rotate(76 36.1 233.0)" fill="#8cbc5a"/>
<ellipse cx="46.1" cy="205.4" rx="1.6" ry="0.7" transform="rotate(172 46.1 205.4)" fill="#3f7429"/>
<ellipse cx="59.8" cy="286.3" rx="1.9" ry="0.8" transform="rotate(167 59.8 286.3)" fill="#7fb24c"/>
<ellipse cx="53.7" cy="255.3" rx="1.9" ry="1.0" transform="rotate(41 53.7 255.3)" fill="#9cc66c"/>
<ellipse cx="38.7" cy="255.7" rx="2.6" ry="1.5" transform="rotate(84 38.7 255.7)" fill="#c6d8b8"/>
<ellipse cx="52.1" cy="256.7" rx="2.6" ry="1.2" transform="rotate(141 52.1 256.7)" fill="#3f7429"/>
<ellipse cx="35.8" cy="230.7" rx="1.5" ry="0.7" transform="rotate(33 35.8 230.7)" fill="#5f9438"/>
<ellipse cx="53.6" cy="270.9" rx="1.7" ry="0.9" transform="rotate(58 53.6 270.9)" fill="#6ea443"/>
<ellipse cx="41.1" cy="255.5" rx="2.3" ry="1.0" transform="rotate(167 41.1 255.5)" fill="#35622a"/>
<ellipse cx="28.9" cy="273.7" rx="2.8" ry="1.5" transform="rotate(25 28.9 273.7)" fill="#8cbc5a"/>
<ellipse cx="47.9" cy="196.4" rx="1.0" ry="0.6" transform="rotate(118 47.9 196.4)" fill="#c6d8b8"/>
<ellipse cx="47.1" cy="250.0" rx="2.7" ry="1.1" transform="rotate(81 47.1 250.0)" fill="#9cc66c"/>
<ellipse cx="33.9" cy="233.2" rx="2.1" ry="1.0" transform="rotate(124 33.9 233.2)" fill="#7fb24c"/>
<ellipse cx="49.1" cy="279.9" rx="2.6" ry="1.4" transform="rotate(36 49.1 279.9)" fill="#3f7429"/>
<ellipse cx="44.5" cy="265.5" rx="1.9" ry="1.1" transform="rotate(100 44.5 265.5)" fill="#c6d8b8"/>
<ellipse cx="40.8" cy="273.6" rx="1.9" ry="1.0" transform="rotate(87 40.8 273.6)" fill="#9cc66c"/>
<ellipse cx="50.1" cy="218.4" rx="1.3" ry="0.7" transform="rotate(132 50.1 218.4)" fill="#9cc66c"/>
<ellipse cx="54.7" cy="239.5" rx="2.1" ry="1.1" transform="rotate(151 54.7 239.5)" fill="#8cbc5a"/>
<ellipse cx="41.1" cy="290.0" rx="2.4" ry="0.9" transform="rotate(65 41.1 290.0)" fill="#5f9438"/>
<ellipse cx="27.7" cy="199.4" rx="2.5" ry="1.5" transform="rotate(146 27.7 199.4)" fill="#7fb24c"/>
<ellipse cx="43.9" cy="241.0" rx="2.8" ry="1.0" transform="rotate(129 43.9 241.0)" fill="#9cc66c"/>
<ellipse cx="38.2" cy="276.9" rx="1.7" ry="0.8" transform="rotate(95 38.2 276.9)" fill="#3f7429"/>
<ellipse cx="36.4" cy="227.5" rx="1.5" ry="0.5" transform="rotate(52 36.4 227.5)" fill="#8cbc5a"/>
<ellipse cx="54.3" cy="233.4" rx="2.0" ry="0.8" transform="rotate(91 54.3 233.4)" fill="#3f7429"/>
<ellipse cx="48.6" cy="270.2" rx="1.7" ry="0.7" transform="rotate(54 48.6 270.2)" fill="#7fb24c"/>
<ellipse cx="52.9" cy="198.8" rx="2.4" ry="1.4" transform="rotate(98 52.9 198.8)" fill="#5f9438"/>
<ellipse cx="40.1" cy="205.3" rx="1.1" ry="0.6" transform="rotate(86 40.1 205.3)" fill="#5f9438"/>
<ellipse cx="53.0" cy="281.4" rx="2.2" ry="1.1" transform="rotate(113 53.0 281.4)" fill="#7fb24c"/>
<ellipse cx="34.0" cy="258.4" rx="1.9" ry="1.0" transform="rotate(18 34.0 258.4)" fill="#9cc66c"/>
<ellipse cx="55.7" cy="235.0" rx="1.2" ry="0.7" transform="rotate(2 55.7 235.0)" fill="#9cc66c"/>
<ellipse cx="53.0" cy="248.4" rx="1.5" ry="0.6" transform="rotate(76 53.0 248.4)" fill="#8cbc5a"/>
<ellipse cx="27.7" cy="248.8" rx="2.2" ry="1.2" transform="rotate(90 27.7 248.8)" fill="#5f9438"/>
<ellipse cx="54.2" cy="268.5" rx="1.8" ry="1.0" transform="rotate(73 54.2 268.5)" fill="#7fb24c"/>
<ellipse cx="27.5" cy="231.8" rx="2.2" ry="1.3" transform="rotate(177 27.5 231.8)" fill="#6ea443"/>
<ellipse cx="52.4" cy="247.1" rx="1.2" ry="0.5" transform="rotate(161 52.4 247.1)" fill="#5f9438"/>
<ellipse cx="41.1" cy="195.9" rx="2.3" ry="1.4" transform="rotate(155 41.1 195.9)" fill="#3f7429"/>
<ellipse cx="55.7" cy="207.3" rx="1.0" ry="0.5" transform="rotate(44 55.7 207.3)" fill="#9cc66c"/>
<ellipse cx="57.5" cy="229.8" rx="2.5" ry="1.3" transform="rotate(26 57.5 229.8)" fill="#7fb24c"/>
<ellipse cx="36.7" cy="248.0" rx="2.0" ry="1.0" transform="rotate(160 36.7 248.0)" fill="#5f9438"/>
<ellipse cx="50.7" cy="196.1" rx="1.0" ry="0.5" transform="rotate(147 50.7 196.1)" fill="#7fb24c"/>
<ellipse cx="39.8" cy="224.7" rx="2.2" ry="1.3" transform="rotate(150 39.8 224.7)" fill="#5f9438"/>
<ellipse cx="37.4" cy="285.1" rx="2.5" ry="1.1" transform="rotate(30 37.4 285.1)" fill="#7fb24c"/>
<ellipse cx="39.0" cy="256.3" rx="2.3" ry="1.0" transform="rotate(69 39.0 256.3)" fill="#6ea443"/>
<ellipse cx="58.2" cy="269.5" rx="2.1" ry="0.9" transform="rotate(11 58.2 269.5)" fill="#8cbc5a"/>
<ellipse cx="55.7" cy="263.9" rx="1.0" ry="0.4" transform="rotate(150 55.7 263.9)" fill="#35622a"/>
<ellipse cx="59.2" cy="218.4" rx="1.8" ry="0.8" transform="rotate(139 59.2 218.4)" fill="#3f7429"/>
<ellipse cx="53.6" cy="221.9" rx="1.0" ry="0.4" transform="rotate(76 53.6 221.9)" fill="#5f9438"/>
<ellipse cx="36.5" cy="208.4" rx="2.8" ry="1.7" transform="rotate(26 36.5 208.4)" fill="#6ea443"/>
<ellipse cx="38.4" cy="203.1" rx="2.1" ry="1.2" transform="rotate(36 38.4 203.1)" fill="#3f7429"/>
<ellipse cx="37.2" cy="200.5" rx="1.8" ry="0.9" transform="rotate(167 37.2 200.5)" fill="#5f9438"/>
<ellipse cx="53.1" cy="238.7" rx="1.2" ry="0.6" transform="rotate(139 53.1 238.7)" fill="#3f7429"/>
<ellipse cx="40.1" cy="244.5" rx="1.5" ry="0.8" transform="rotate(58 40.1 244.5)" fill="#3f7429"/>
<ellipse cx="33.2" cy="213.3" rx="1.4" ry="0.7" transform="rotate(65 33.2 213.3)" fill="#8cbc5a"/>
<ellipse cx="40.3" cy="244.1" rx="1.3" ry="0.5" transform="rotate(179 40.3 244.1)" fill="#8cbc5a"/>
<ellipse cx="55.6" cy="230.3" rx="1.9" ry="0.7" transform="rotate(57 55.6 230.3)" fill="#5f9438"/>
<ellipse cx="38.4" cy="244.3" rx="1.0" ry="0.4" transform="rotate(178 38.4 244.3)" fill="#6ea443"/>
<ellipse cx="46.4" cy="215.3" rx="2.9" ry="1.2" transform="rotate(17 46.4 215.3)" fill="#6ea443"/>
<ellipse cx="52.3" cy="272.8" rx="2.9" ry="1.2" transform="rotate(7 52.3 272.8)" fill="#3f7429"/>
<ellipse cx="59.8" cy="230.9" rx="1.1" ry="0.4" transform="rotate(67 59.8 230.9)" fill="#6ea443"/>
<ellipse cx="43.1" cy="275.3" rx="2.8" ry="1.6" transform="rotate(115 43.1 275.3)" fill="#7fb24c"/>
<ellipse cx="50.3" cy="203.5" rx="1.6" ry="0.7" transform="rotate(16 50.3 203.5)" fill="#35622a"/>
<ellipse cx="33.0" cy="275.7" rx="1.7" ry="0.7" transform="rotate(130 33.0 275.7)" fill="#9cc66c"/>
<ellipse cx="28.3" cy="219.3" rx="1.7" ry="1.0" transform="rotate(163 28.3 219.3)" fill="#5f9438"/>
<ellipse cx="35.5" cy="243.8" rx="2.5" ry="1.3" transform="rotate(87 35.5 243.8)" fill="#7fb24c"/>
<ellipse cx="31.8" cy="266.7" rx="2.9" ry="1.5" transform="rotate(54 31.8 266.7)" fill="#6ea443"/>
<ellipse cx="52.0" cy="205.0" rx="1.6" ry="0.7" transform="rotate(22 52.0 205.0)" fill="#6ea443"/>
<ellipse cx="39.5" cy="236.9" rx="2.6" ry="1.5" transform="rotate(161 39.5 236.9)" fill="#6ea443"/>
<ellipse cx="50.7" cy="213.5" rx="1.1" ry="0.6" transform="rotate(40 50.7 213.5)" fill="#8cbc5a"/>
<ellipse cx="56.3" cy="208.3" rx="1.9" ry="0.7" transform="rotate(167 56.3 208.3)" fill="#5f9438"/>
<ellipse cx="47.7" cy="238.0" rx="1.7" ry="0.9" transform="rotate(86 47.7 238.0)" fill="#8cbc5a"/>
<ellipse cx="31.7" cy="216.1" rx="1.1" ry="0.6" transform="rotate(100 31.7 216.1)" fill="#9cc66c"/>
<ellipse cx="41.5" cy="209.2" rx="1.8" ry="0.8" transform="rotate(5 41.5 209.2)" fill="#c6d8b8"/>
<ellipse cx="38.0" cy="210.9" rx="2.0" ry="0.9" transform="rotate(163 38.0 210.9)" fill="#7fb24c"/>
<ellipse cx="32.1" cy="243.8" rx="2.3" ry="1.2" transform="rotate(167 32.1 243.8)" fill="#6ea443"/>
<ellipse cx="54.6" cy="206.3" rx="2.5" ry="1.5" transform="rotate(78 54.6 206.3)" fill="#c6d8b8"/>
<ellipse cx="59.9" cy="282.9" rx="1.2" ry="0.5" transform="rotate(161 59.9 282.9)" fill="#5f9438"/>
<ellipse cx="54.5" cy="288.0" rx="1.3" ry="0.7" transform="rotate(80 54.5 288.0)" fill="#8cbc5a"/>
<ellipse cx="43.9" cy="237.1" rx="2.6" ry="1.5" transform="rotate(52 43.9 237.1)" fill="#8cbc5a"/>
<ellipse cx="41.4" cy="281.6" rx="1.4" ry="0.7" transform="rotate(25 41.4 281.6)" fill="#9cc66c"/>
<ellipse cx="44.2" cy="216.9" rx="1.4" ry="0.7" transform="rotate(149 44.2 216.9)" fill="#6ea443"/>
<ellipse cx="52.1" cy="211.7" rx="1.3" ry="0.7" transform="rotate(113 52.1 211.7)" fill="#3f7429"/>
<ellipse cx="46.2" cy="214.2" rx="1.1" ry="0.6" transform="rotate(73 46.2 214.2)" fill="#5f9438"/>
<ellipse cx="44.1" cy="228.0" rx="1.6" ry="0.8" transform="rotate(170 44.1 228.0)" fill="#7fb24c"/>
<ellipse cx="27.5" cy="281.5" rx="2.0" ry="1.1" transform="rotate(48 27.5 281.5)" fill="#9cc66c"/>
<ellipse cx="45.6" cy="288.6" rx="1.1" ry="0.6" transform="rotate(103 45.6 288.6)" fill="#5f9438"/>
<ellipse cx="38.8" cy="283.6" rx="2.9" ry="1.1" transform="rotate(64 38.8 283.6)" fill="#3f7429"/>
<ellipse cx="53.9" cy="277.2" rx="1.6" ry="0.9" transform="rotate(69 53.9 277.2)" fill="#5f9438"/>
<ellipse cx="36.6" cy="205.2" rx="2.5" ry="1.1" transform="rotate(5 36.6 205.2)" fill="#9cc66c"/>
<ellipse cx="27.7" cy="286.9" rx="1.4" ry="0.6" transform="rotate(18 27.7 286.9)" fill="#c6d8b8"/>
<ellipse cx="45.3" cy="285.8" rx="1.0" ry="0.6" transform="rotate(133 45.3 285.8)" fill="#c6d8b8"/>
<ellipse cx="27.6" cy="251.9" rx="2.2" ry="1.0" transform="rotate(126 27.6 251.9)" fill="#7fb24c"/>
<ellipse cx="38.6" cy="203.9" rx="1.4" ry="0.6" transform="rotate(84 38.6 203.9)" fill="#c6d8b8"/>
<ellipse cx="30.6" cy="206.5" rx="2.8" ry="1.3" transform="rotate(41 30.6 206.5)" fill="#3f7429"/>
<ellipse cx="31.9" cy="249.4" rx="2.5" ry="1.0" transform="rotate(149 31.9 249.4)" fill="#35622a"/>
<ellipse cx="49.9" cy="251.7" rx="2.2" ry="0.8" transform="rotate(175 49.9 251.7)" fill="#5f9438"/>
<ellipse cx="86.1" cy="202.1" rx="1.5" ry="0.6" transform="rotate(78 86.1 202.1)" fill="#c6d8b8"/>
<ellipse cx="87.2" cy="214.2" rx="2.6" ry="1.5" transform="rotate(10 87.2 214.2)" fill="#c6d8b8"/>
<ellipse cx="60.9" cy="209.3" rx="1.7" ry="1.0" transform="rotate(119 60.9 209.3)" fill="#5f9438"/>
<ellipse cx="69.6" cy="206.1" rx="1.1" ry="0.5" transform="rotate(91 69.6 206.1)" fill="#5f9438"/>
<ellipse cx="64.0" cy="203.8" rx="1.8" ry="1.1" transform="rotate(82 64.0 203.8)" fill="#5f9438"/>
<ellipse cx="87.4" cy="213.6" rx="2.8" ry="1.0" transform="rotate(115 87.4 213.6)" fill="#9cc66c"/>
<ellipse cx="91.7" cy="208.1" rx="2.3" ry="1.2" transform="rotate(6 91.7 208.1)" fill="#5f9438"/>
<ellipse cx="65.0" cy="205.9" rx="1.9" ry="1.1" transform="rotate(52 65.0 205.9)" fill="#9cc66c"/>
<ellipse cx="68.9" cy="198.5" rx="1.1" ry="0.7" transform="rotate(166 68.9 198.5)" fill="#9cc66c"/>
<ellipse cx="58.4" cy="207.4" rx="2.9" ry="1.3" transform="rotate(92 58.4 207.4)" fill="#9cc66c"/>
<ellipse cx="91.6" cy="207.1" rx="1.5" ry="0.8" transform="rotate(133 91.6 207.1)" fill="#9cc66c"/>
<ellipse cx="88.6" cy="207.8" rx="2.1" ry="1.1" transform="rotate(36 88.6 207.8)" fill="#8cbc5a"/>
<ellipse cx="69.7" cy="213.7" rx="1.6" ry="0.8" transform="rotate(147 69.7 213.7)" fill="#5f9438"/>
<ellipse cx="64.7" cy="199.7" rx="2.0" ry="0.9" transform="rotate(105 64.7 199.7)" fill="#5f9438"/>
<ellipse cx="92.0" cy="198.4" rx="2.9" ry="1.3" transform="rotate(59 92.0 198.4)" fill="#9cc66c"/>
<ellipse cx="66.4" cy="215.7" rx="1.6" ry="0.9" transform="rotate(29 66.4 215.7)" fill="#5f9438"/>
<ellipse cx="79.2" cy="202.3" rx="2.3" ry="1.1" transform="rotate(150 79.2 202.3)" fill="#9cc66c"/>
<ellipse cx="84.4" cy="197.3" rx="1.5" ry="0.9" transform="rotate(133 84.4 197.3)" fill="#7fb24c"/>
<ellipse cx="71.7" cy="209.0" rx="1.3" ry="0.5" transform="rotate(110 71.7 209.0)" fill="#9cc66c"/>
<ellipse cx="87.8" cy="205.9" rx="2.5" ry="1.3" transform="rotate(137 87.8 205.9)" fill="#3f7429"/>
<ellipse cx="65.7" cy="208.2" rx="2.3" ry="1.2" transform="rotate(74 65.7 208.2)" fill="#5f9438"/>
<ellipse cx="55.2" cy="211.1" rx="2.2" ry="1.0" transform="rotate(173 55.2 211.1)" fill="#c6d8b8"/>
<ellipse cx="61.0" cy="212.8" rx="1.6" ry="0.8" transform="rotate(20 61.0 212.8)" fill="#35622a"/>
<ellipse cx="73.1" cy="204.6" rx="2.4" ry="1.0" transform="rotate(70 73.1 204.6)" fill="#c6d8b8"/>
<ellipse cx="78.8" cy="208.6" rx="1.0" ry="0.5" transform="rotate(178 78.8 208.6)" fill="#3f7429"/>
<ellipse cx="72.8" cy="198.9" rx="1.6" ry="0.6" transform="rotate(104 72.8 198.9)" fill="#c6d8b8"/>
<ellipse cx="64.3" cy="212.3" rx="1.7" ry="1.0" transform="rotate(109 64.3 212.3)" fill="#7fb24c"/>
<ellipse cx="93.4" cy="199.3" rx="1.9" ry="1.1" transform="rotate(2 93.4 199.3)" fill="#5f9438"/>
<ellipse cx="65.3" cy="213.8" rx="1.6" ry="0.8" transform="rotate(56 65.3 213.8)" fill="#c6d8b8"/>
<ellipse cx="94.9" cy="205.9" rx="2.0" ry="1.1" transform="rotate(70 94.9 205.9)" fill="#9cc66c"/>
<ellipse cx="56.6" cy="209.2" rx="1.9" ry="0.7" transform="rotate(12 56.6 209.2)" fill="#7fb24c"/>
<ellipse cx="59.0" cy="202.9" rx="1.8" ry="0.9" transform="rotate(103 59.0 202.9)" fill="#7fb24c"/>
<ellipse cx="93.6" cy="205.2" rx="1.9" ry="1.0" transform="rotate(179 93.6 205.2)" fill="#9cc66c"/>
<ellipse cx="82.7" cy="210.7" rx="1.2" ry="0.5" transform="rotate(66 82.7 210.7)" fill="#5f9438"/>
<ellipse cx="88.0" cy="205.8" rx="1.2" ry="0.7" transform="rotate(124 88.0 205.8)" fill="#35622a"/>
<ellipse cx="92.4" cy="205.7" rx="2.9" ry="1.5" transform="rotate(94 92.4 205.7)" fill="#35622a"/>
<ellipse cx="75.5" cy="205.6" rx="1.4" ry="0.5" transform="rotate(113 75.5 205.6)" fill="#c6d8b8"/>
<ellipse cx="59.3" cy="207.0" rx="2.3" ry="1.2" transform="rotate(125 59.3 207.0)" fill="#5f9438"/>
<ellipse cx="86.5" cy="201.4" rx="2.4" ry="0.8" transform="rotate(55 86.5 201.4)" fill="#35622a"/>
<ellipse cx="58.9" cy="195.3" rx="1.1" ry="0.4" transform="rotate(138 58.9 195.3)" fill="#c6d8b8"/>
<ellipse cx="65.6" cy="208.6" rx="2.1" ry="1.2" transform="rotate(103 65.6 208.6)" fill="#3f7429"/>
<ellipse cx="79.1" cy="198.1" rx="2.0" ry="1.0" transform="rotate(5 79.1 198.1)" fill="#5f9438"/>
<ellipse cx="61.8" cy="206.0" rx="2.6" ry="1.3" transform="rotate(145 61.8 206.0)" fill="#5f9438"/>
<ellipse cx="81.0" cy="209.4" rx="2.2" ry="0.8" transform="rotate(43 81.0 209.4)" fill="#9cc66c"/>
<ellipse cx="61.8" cy="200.6" rx="1.2" ry="0.7" transform="rotate(105 61.8 200.6)" fill="#9cc66c"/>
<ellipse cx="62.7" cy="208.1" rx="1.0" ry="0.4" transform="rotate(71 62.7 208.1)" fill="#35622a"/>
<ellipse cx="93.4" cy="204.2" rx="2.2" ry="0.9" transform="rotate(8 93.4 204.2)" fill="#c6d8b8"/>
<ellipse cx="89.2" cy="201.6" rx="2.8" ry="1.5" transform="rotate(55 89.2 201.6)" fill="#c6d8b8"/>
<ellipse cx="65.1" cy="213.6" rx="3.0" ry="1.1" transform="rotate(122 65.1 213.6)" fill="#8cbc5a"/>
<ellipse cx="83.7" cy="199.6" rx="1.6" ry="0.9" transform="rotate(87 83.7 199.6)" fill="#35622a"/>
<ellipse cx="89.7" cy="196.8" rx="1.3" ry="0.6" transform="rotate(1 89.7 196.8)" fill="#9cc66c"/>
<ellipse cx="70.8" cy="202.6" rx="1.7" ry="0.9" transform="rotate(60 70.8 202.6)" fill="#8cbc5a"/>
<ellipse cx="57.6" cy="197.6" rx="2.7" ry="1.2" transform="rotate(44 57.6 197.6)" fill="#7fb24c"/>
<ellipse cx="73.7" cy="202.2" rx="1.9" ry="0.8" transform="rotate(5 73.7 202.2)" fill="#35622a"/>
<ellipse cx="61.2" cy="209.8" rx="1.2" ry="0.5" transform="rotate(150 61.2 209.8)" fill="#7fb24c"/>
<ellipse cx="77.2" cy="204.8" rx="2.6" ry="1.1" transform="rotate(66 77.2 204.8)" fill="#7fb24c"/>
<ellipse cx="83.9" cy="202.9" rx="2.9" ry="1.2" transform="rotate(171 83.9 202.9)" fill="#c6d8b8"/>
<ellipse cx="63.2" cy="213.0" rx="2.4" ry="1.4" transform="rotate(180 63.2 213.0)" fill="#c6d8b8"/>
<ellipse cx="91.0" cy="207.3" rx="1.7" ry="0.7" transform="rotate(109 91.0 207.3)" fill="#7fb24c"/>
<ellipse cx="60.0" cy="210.8" rx="2.4" ry="0.9" transform="rotate(153 60.0 210.8)" fill="#8cbc5a"/>
<ellipse cx="96.1" cy="231.6" rx="2.3" ry="1.1" transform="rotate(56 96.1 231.6)" fill="#3f7429"/>
<ellipse cx="95.1" cy="261.0" rx="2.6" ry="1.0" transform="rotate(34 95.1 261.0)" fill="#5f9438"/>
<ellipse cx="84.2" cy="281.8" rx="2.6" ry="1.4" transform="rotate(35 84.2 281.8)" fill="#8cbc5a"/>
<ellipse cx="88.3" cy="216.5" rx="1.3" ry="0.7" transform="rotate(51 88.3 216.5)" fill="#3f7429"/>
<ellipse cx="97.4" cy="239.1" rx="2.3" ry="1.1" transform="rotate(155 97.4 239.1)" fill="#9cc66c"/>
<ellipse cx="86.0" cy="229.8" rx="2.6" ry="1.4" transform="rotate(161 86.0 229.8)" fill="#5f9438"/>
<ellipse cx="94.2" cy="261.4" rx="1.5" ry="0.8" transform="rotate(63 94.2 261.4)" fill="#8cbc5a"/>
<ellipse cx="84.7" cy="222.7" rx="1.5" ry="0.8" transform="rotate(39 84.7 222.7)" fill="#8cbc5a"/>
<ellipse cx="83.7" cy="198.8" rx="1.3" ry="0.5" transform="rotate(55 83.7 198.8)" fill="#3f7429"/>
<ellipse cx="95.6" cy="247.5" rx="2.3" ry="1.3" transform="rotate(102 95.6 247.5)" fill="#7fb24c"/>
<ellipse cx="92.7" cy="263.1" rx="1.5" ry="0.7" transform="rotate(123 92.7 263.1)" fill="#9cc66c"/>
<ellipse cx="98.9" cy="205.6" rx="2.5" ry="1.3" transform="rotate(162 98.9 205.6)" fill="#35622a"/>
<ellipse cx="92.9" cy="261.1" rx="2.9" ry="1.5" transform="rotate(7 92.9 261.1)" fill="#9cc66c"/>
<ellipse cx="86.6" cy="281.9" rx="2.5" ry="0.9" transform="rotate(125 86.6 281.9)" fill="#3f7429"/>
<ellipse cx="100.0" cy="253.5" rx="1.4" ry="0.7" transform="rotate(63 100.0 253.5)" fill="#3f7429"/>
<ellipse cx="90.5" cy="227.3" rx="2.0" ry="1.0" transform="rotate(151 90.5 227.3)" fill="#8cbc5a"/>
<ellipse cx="90.7" cy="200.2" rx="2.4" ry="1.1" transform="rotate(92 90.7 200.2)" fill="#35622a"/>
<ellipse cx="85.2" cy="267.4" rx="1.1" ry="0.6" transform="rotate(145 85.2 267.4)" fill="#9cc66c"/>
<ellipse cx="86.0" cy="210.6" rx="2.6" ry="1.0" transform="rotate(47 86.0 210.6)" fill="#5f9438"/>
<ellipse cx="85.9" cy="228.0" rx="1.2" ry="0.6" transform="rotate(25 85.9 228.0)" fill="#8cbc5a"/>
<ellipse cx="95.0" cy="258.7" rx="1.5" ry="0.6" transform="rotate(93 95.0 258.7)" fill="#3f7429"/>
<ellipse cx="85.3" cy="255.9" rx="2.4" ry="0.9" transform="rotate(127 85.3 255.9)" fill="#c6d8b8"/>
<ellipse cx="92.6" cy="226.7" rx="2.6" ry="1.3" transform="rotate(137 92.6 226.7)" fill="#7fb24c"/>
<ellipse cx="94.5" cy="209.7" rx="3.0" ry="1.7" transform="rotate(73 94.5 209.7)" fill="#7fb24c"/>
<ellipse cx="84.9" cy="222.5" rx="1.7" ry="0.7" transform="rotate(11 84.9 222.5)" fill="#9cc66c"/>
<ellipse cx="88.2" cy="205.5" rx="1.6" ry="1.0" transform="rotate(29 88.2 205.5)" fill="#3f7429"/>
<ellipse cx="91.0" cy="229.5" rx="1.3" ry="0.5" transform="rotate(2 91.0 229.5)" fill="#35622a"/>
<ellipse cx="91.3" cy="266.0" rx="1.7" ry="0.9" transform="rotate(48 91.3 266.0)" fill="#8cbc5a"/>
<ellipse cx="91.3" cy="236.3" rx="1.4" ry="0.7" transform="rotate(1 91.3 236.3)" fill="#5f9438"/>
<ellipse cx="94.0" cy="254.6" rx="2.9" ry="1.5" transform="rotate(45 94.0 254.6)" fill="#7fb24c"/>
<ellipse cx="84.3" cy="266.0" rx="1.1" ry="0.5" transform="rotate(26 84.3 266.0)" fill="#9cc66c"/>
<ellipse cx="86.2" cy="255.6" rx="2.7" ry="1.6" transform="rotate(30 86.2 255.6)" fill="#35622a"/>
<ellipse cx="95.2" cy="224.5" rx="2.2" ry="1.0" transform="rotate(117 95.2 224.5)" fill="#9cc66c"/>
<ellipse cx="88.4" cy="230.0" rx="2.1" ry="0.9" transform="rotate(150 88.4 230.0)" fill="#7fb24c"/>
<ellipse cx="84.0" cy="205.2" rx="2.6" ry="1.5" transform="rotate(180 84.0 205.2)" fill="#3f7429"/>
<ellipse cx="98.4" cy="284.8" rx="2.0" ry="0.9" transform="rotate(28 98.4 284.8)" fill="#9cc66c"/>
<ellipse cx="93.2" cy="254.5" rx="1.3" ry="0.5" transform="rotate(25 93.2 254.5)" fill="#8cbc5a"/>
<ellipse cx="99.5" cy="203.5" rx="1.1" ry="0.5" transform="rotate(34 99.5 203.5)" fill="#8cbc5a"/>
<ellipse cx="89.3" cy="198.0" rx="2.2" ry="1.2" transform="rotate(92 89.3 198.0)" fill="#7fb24c"/>
<ellipse cx="87.8" cy="257.9" rx="2.0" ry="0.9" transform="rotate(61 87.8 257.9)" fill="#3f7429"/>
<ellipse cx="83.1" cy="285.8" rx="1.4" ry="0.7" transform="rotate(68 83.1 285.8)" fill="#5f9438"/>
<ellipse cx="90.5" cy="248.5" rx="1.7" ry="0.7" transform="rotate(15 90.5 248.5)" fill="#9cc66c"/>
<ellipse cx="91.8" cy="235.7" rx="2.1" ry="1.0" transform="rotate(28 91.8 235.7)" fill="#3f7429"/>
<ellipse cx="99.4" cy="253.9" rx="2.6" ry="1.0" transform="rotate(122 99.4 253.9)" fill="#c6d8b8"/>
<ellipse cx="94.2" cy="248.7" rx="1.8" ry="0.8" transform="rotate(118 94.2 248.7)" fill="#7fb24c"/>
<ellipse cx="88.1" cy="227.6" rx="2.8" ry="1.0" transform="rotate(34 88.1 227.6)" fill="#8cbc5a"/>
<ellipse cx="95.6" cy="260.7" rx="1.3" ry="0.6" transform="rotate(100 95.6 260.7)" fill="#3f7429"/>
<ellipse cx="89.1" cy="217.8" rx="1.9" ry="0.8" transform="rotate(41 89.1 217.8)" fill="#7fb24c"/>
<ellipse cx="92.3" cy="205.7" rx="2.7" ry="1.1" transform="rotate(17 92.3 205.7)" fill="#c6d8b8"/>
<ellipse cx="94.4" cy="262.4" rx="1.5" ry="0.7" transform="rotate(97 94.4 262.4)" fill="#8cbc5a"/>
<ellipse cx="84.9" cy="243.8" rx="2.2" ry="0.8" transform="rotate(73 84.9 243.8)" fill="#5f9438"/>
<ellipse cx="96.6" cy="207.8" rx="2.0" ry="1.0" transform="rotate(151 96.6 207.8)" fill="#5f9438"/>
<ellipse cx="93.7" cy="286.2" rx="2.0" ry="0.9" transform="rotate(123 93.7 286.2)" fill="#c6d8b8"/>
<ellipse cx="85.9" cy="286.2" rx="2.1" ry="1.2" transform="rotate(25 85.9 286.2)" fill="#35622a"/>
<ellipse cx="93.5" cy="233.4" rx="1.1" ry="0.4" transform="rotate(126 93.5 233.4)" fill="#7fb24c"/>
<ellipse cx="90.8" cy="206.5" rx="1.3" ry="0.7" transform="rotate(16 90.8 206.5)" fill="#35622a"/>
<ellipse cx="86.4" cy="205.9" rx="2.5" ry="1.1" transform="rotate(66 86.4 205.9)" fill="#35622a"/>
<ellipse cx="88.8" cy="267.5" rx="2.4" ry="1.3" transform="rotate(22 88.8 267.5)" fill="#9cc66c"/>
<ellipse cx="91.7" cy="244.8" rx="1.7" ry="0.8" transform="rotate(147 91.7 244.8)" fill="#9cc66c"/>
<ellipse cx="84.7" cy="247.1" rx="2.6" ry="1.0" transform="rotate(167 84.7 247.1)" fill="#8cbc5a"/>
<ellipse cx="87.1" cy="228.7" rx="2.4" ry="0.8" transform="rotate(178 87.1 228.7)" fill="#3f7429"/>
<ellipse cx="84.9" cy="197.0" rx="1.2" ry="0.7" transform="rotate(33 84.9 197.0)" fill="#c6d8b8"/>
<ellipse cx="98.8" cy="278.0" rx="2.3" ry="1.3" transform="rotate(106 98.8 278.0)" fill="#9cc66c"/>
<ellipse cx="92.2" cy="260.5" rx="2.6" ry="1.5" transform="rotate(2 92.2 260.5)" fill="#9cc66c"/>
<ellipse cx="99.9" cy="241.3" rx="2.0" ry="0.7" transform="rotate(151 99.9 241.3)" fill="#5f9438"/>
<ellipse cx="86.1" cy="272.7" rx="2.4" ry="1.1" transform="rotate(86 86.1 272.7)" fill="#7fb24c"/>
<ellipse cx="94.8" cy="237.6" rx="1.5" ry="0.9" transform="rotate(93 94.8 237.6)" fill="#9cc66c"/>
<ellipse cx="88.6" cy="215.5" rx="2.8" ry="1.4" transform="rotate(8 88.6 215.5)" fill="#7fb24c"/>
<ellipse cx="96.9" cy="264.1" rx="1.7" ry="0.8" transform="rotate(169 96.9 264.1)" fill="#9cc66c"/>
<ellipse cx="83.1" cy="250.0" rx="1.7" ry="0.6" transform="rotate(83 83.1 250.0)" fill="#c6d8b8"/>
<ellipse cx="83.8" cy="208.9" rx="2.3" ry="1.0" transform="rotate(49 83.8 208.9)" fill="#c6d8b8"/>
<ellipse cx="99.9" cy="228.9" rx="2.1" ry="1.1" transform="rotate(25 99.9 228.9)" fill="#8cbc5a"/>
<ellipse cx="83.6" cy="248.3" rx="2.5" ry="1.4" transform="rotate(139 83.6 248.3)" fill="#8cbc5a"/>
<ellipse cx="92.7" cy="204.4" rx="2.6" ry="1.4" transform="rotate(43 92.7 204.4)" fill="#35622a"/>
<ellipse cx="99.0" cy="259.7" rx="1.6" ry="0.9" transform="rotate(133 99.0 259.7)" fill="#c6d8b8"/>
<ellipse cx="97.5" cy="218.3" rx="2.7" ry="1.5" transform="rotate(60 97.5 218.3)" fill="#8cbc5a"/>
<ellipse cx="88.7" cy="225.7" rx="3.0" ry="1.4" transform="rotate(66 88.7 225.7)" fill="#7fb24c"/>
<ellipse cx="96.8" cy="289.7" rx="1.3" ry="0.5" transform="rotate(160 96.8 289.7)" fill="#8cbc5a"/>
<ellipse cx="90.7" cy="237.3" rx="2.1" ry="0.9" transform="rotate(30 90.7 237.3)" fill="#5f9438"/>
<ellipse cx="85.4" cy="263.4" rx="1.5" ry="0.7" transform="rotate(119 85.4 263.4)" fill="#9cc66c"/>
<ellipse cx="84.2" cy="213.1" rx="2.8" ry="1.4" transform="rotate(55 84.2 213.1)" fill="#9cc66c"/>
<ellipse cx="99.8" cy="228.9" rx="2.5" ry="1.2" transform="rotate(156 99.8 228.9)" fill="#5f9438"/>
<ellipse cx="97.3" cy="225.3" rx="1.4" ry="0.8" transform="rotate(98 97.3 225.3)" fill="#35622a"/>
<ellipse cx="85.8" cy="220.5" rx="2.4" ry="1.0" transform="rotate(72 85.8 220.5)" fill="#7fb24c"/>
<ellipse cx="98.2" cy="221.9" rx="2.0" ry="0.8" transform="rotate(44 98.2 221.9)" fill="#5f9438"/>
<ellipse cx="99.4" cy="252.1" rx="1.2" ry="0.6" transform="rotate(158 99.4 252.1)" fill="#9cc66c"/>
<ellipse cx="95.2" cy="195.5" rx="1.5" ry="0.8" transform="rotate(3 95.2 195.5)" fill="#9cc66c"/>
<ellipse cx="98.7" cy="215.2" rx="1.7" ry="0.9" transform="rotate(117 98.7 215.2)" fill="#3f7429"/>
<ellipse cx="93.4" cy="271.0" rx="1.3" ry="0.8" transform="rotate(143 93.4 271.0)" fill="#5f9438"/>
<ellipse cx="93.6" cy="226.8" rx="2.0" ry="1.0" transform="rotate(46 93.6 226.8)" fill="#3f7429"/>
<ellipse cx="97.8" cy="197.4" rx="1.6" ry="0.8" transform="rotate(56 97.8 197.4)" fill="#3f7429"/>
<ellipse cx="93.4" cy="263.8" rx="1.7" ry="0.6" transform="rotate(28 93.4 263.8)" fill="#7fb24c"/>
<ellipse cx="92.0" cy="274.9" rx="1.7" ry="0.8" transform="rotate(62 92.0 274.9)" fill="#8cbc5a"/>
<ellipse cx="93.0" cy="247.7" rx="2.3" ry="1.2" transform="rotate(60 93.0 247.7)" fill="#8cbc5a"/>
<ellipse cx="93.5" cy="272.3" rx="2.0" ry="0.7" transform="rotate(117 93.5 272.3)" fill="#8cbc5a"/>
<ellipse cx="96.1" cy="287.9" rx="1.9" ry="0.8" transform="rotate(94 96.1 287.9)" fill="#9cc66c"/>
<ellipse cx="85.2" cy="195.9" rx="2.0" ry="1.0" transform="rotate(139 85.2 195.9)" fill="#9cc66c"/>
<ellipse cx="85.6" cy="254.7" rx="1.8" ry="1.1" transform="rotate(169 85.6 254.7)" fill="#c6d8b8"/>
<ellipse cx="85.3" cy="200.7" rx="2.0" ry="1.0" transform="rotate(33 85.3 200.7)" fill="#c6d8b8"/>
<ellipse cx="89.2" cy="209.2" rx="1.4" ry="0.7" transform="rotate(166 89.2 209.2)" fill="#7fb24c"/>
<ellipse cx="92.0" cy="228.3" rx="2.4" ry="1.1" transform="rotate(155 92.0 228.3)" fill="#7fb24c"/>
<ellipse cx="93.8" cy="227.7" rx="2.6" ry="1.2" transform="rotate(58 93.8 227.7)" fill="#5f9438"/>
<ellipse cx="84.8" cy="264.7" rx="1.1" ry="0.6" transform="rotate(72 84.8 264.7)" fill="#35622a"/>
<ellipse cx="89.0" cy="216.7" rx="1.8" ry="1.0" transform="rotate(68 89.0 216.7)" fill="#8cbc5a"/>
<ellipse cx="93.7" cy="216.3" rx="1.5" ry="0.6" transform="rotate(78 93.7 216.3)" fill="#7fb24c"/>
<ellipse cx="89.0" cy="226.0" rx="1.9" ry="0.8" transform="rotate(158 89.0 226.0)" fill="#3f7429"/>
<ellipse cx="86.7" cy="249.1" rx="1.3" ry="0.7" transform="rotate(156 86.7 249.1)" fill="#9cc66c"/>
<ellipse cx="99.2" cy="208.0" rx="1.6" ry="0.6" transform="rotate(1 99.2 208.0)" fill="#35622a"/>
<ellipse cx="98.1" cy="210.4" rx="2.4" ry="1.2" transform="rotate(82 98.1 210.4)" fill="#c6d8b8"/>
<ellipse cx="83.9" cy="269.3" rx="2.7" ry="1.4" transform="rotate(8 83.9 269.3)" fill="#35622a"/>
<ellipse cx="152.4" cy="205.0" rx="5.5" ry="3.3" transform="rotate(54 152.4 205.0)" fill="#2b5420"/>
<ellipse cx="148.7" cy="203.4" rx="5.7" ry="2.2" transform="rotate(54 148.7 203.4)" fill="#bfcabb"/>
<ellipse cx="104.1" cy="204.3" rx="4.7" ry="1.8" transform="rotate(61 104.1 204.3)" fill="#26471c"/>
<ellipse cx="153.6" cy="248.9" rx="2.1" ry="0.9" transform="rotate(143 153.6 248.9)" fill="#2b5420"/>
<ellipse cx="100.4" cy="222.8" rx="2.9" ry="1.3" transform="rotate(19 100.4 222.8)" fill="#2b5420"/>
<ellipse cx="101.0" cy="244.2" rx="2.3" ry="0.9" transform="rotate(172 101.0 244.2)" fill="#4f7d36"/>
<ellipse cx="131.1" cy="195.1" rx="2.9" ry="1.4" transform="rotate(114 131.1 195.1)" fill="#3a6529"/>
<ellipse cx="131.4" cy="241.2" rx="5.8" ry="2.2" transform="rotate(175 131.4 241.2)" fill="#658f44"/>
<ellipse cx="144.1" cy="210.0" rx="2.7" ry="1.1" transform="rotate(12 144.1 210.0)" fill="#2b5420"/>
<ellipse cx="110.4" cy="197.6" rx="5.2" ry="3.0" transform="rotate(48 110.4 197.6)" fill="#bfcabb"/>
<ellipse cx="141.4" cy="230.9" rx="4.2" ry="2.0" transform="rotate(124 141.4 230.9)" fill="#7ea552"/>
<ellipse cx="123.2" cy="212.5" rx="3.7" ry="2.2" transform="rotate(70 123.2 212.5)" fill="#26471c"/>
<ellipse cx="153.5" cy="239.2" rx="5.6" ry="2.8" transform="rotate(43 153.5 239.2)" fill="#7ea552"/>
<ellipse cx="141.7" cy="235.1" rx="6.0" ry="3.3" transform="rotate(119 141.7 235.1)" fill="#3a6529"/>
<ellipse cx="151.1" cy="238.1" rx="5.6" ry="2.0" transform="rotate(125 151.1 238.1)" fill="#bfcabb"/>
<ellipse cx="141.1" cy="219.3" rx="4.7" ry="2.2" transform="rotate(104 141.1 219.3)" fill="#34602a"/>
<ellipse cx="145.0" cy="241.9" rx="4.0" ry="2.0" transform="rotate(179 145.0 241.9)" fill="#658f44"/>
<ellipse cx="150.0" cy="238.5" rx="5.5" ry="2.4" transform="rotate(12 150.0 238.5)" fill="#7ea552"/>
<ellipse cx="136.6" cy="232.2" rx="3.3" ry="1.7" transform="rotate(98 136.6 232.2)" fill="#658f44"/>
<ellipse cx="156.2" cy="237.1" rx="3.0" ry="1.7" transform="rotate(154 156.2 237.1)" fill="#bfcabb"/>
<ellipse cx="130.9" cy="221.2" rx="2.9" ry="1.1" transform="rotate(167 130.9 221.2)" fill="#bfcabb"/>
<ellipse cx="131.0" cy="224.0" rx="5.3" ry="2.2" transform="rotate(31 131.0 224.0)" fill="#34602a"/>
<ellipse cx="109.2" cy="247.1" rx="5.4" ry="2.8" transform="rotate(164 109.2 247.1)" fill="#bfcabb"/>
<ellipse cx="122.0" cy="240.8" rx="5.3" ry="2.0" transform="rotate(28 122.0 240.8)" fill="#7ea552"/>
<ellipse cx="121.6" cy="215.1" rx="4.7" ry="2.2" transform="rotate(54 121.6 215.1)" fill="#3a6529"/>
<ellipse cx="115.3" cy="211.0" rx="3.8" ry="1.4" transform="rotate(114 115.3 211.0)" fill="#4f7d36"/>
<ellipse cx="145.8" cy="203.2" rx="4.7" ry="2.1" transform="rotate(94 145.8 203.2)" fill="#658f44"/>
<ellipse cx="137.2" cy="223.8" rx="5.2" ry="2.2" transform="rotate(100 137.2 223.8)" fill="#2b5420"/>
<ellipse cx="133.9" cy="198.2" rx="2.7" ry="1.4" transform="rotate(49 133.9 198.2)" fill="#bfcabb"/>
<ellipse cx="114.1" cy="209.6" rx="3.8" ry="1.8" transform="rotate(89 114.1 209.6)" fill="#3a6529"/>
<ellipse cx="110.7" cy="218.3" rx="5.2" ry="2.6" transform="rotate(67 110.7 218.3)" fill="#2b5420"/>
<ellipse cx="143.2" cy="215.7" rx="2.2" ry="1.2" transform="rotate(175 143.2 215.7)" fill="#26471c"/>
<ellipse cx="138.8" cy="239.6" rx="3.4" ry="1.5" transform="rotate(104 138.8 239.6)" fill="#658f44"/>
<ellipse cx="159.6" cy="241.8" rx="4.3" ry="1.6" transform="rotate(37 159.6 241.8)" fill="#3a6529"/>
<ellipse cx="103.0" cy="219.5" rx="3.6" ry="1.6" transform="rotate(168 103.0 219.5)" fill="#2b5420"/>
<ellipse cx="104.8" cy="226.0" rx="5.7" ry="3.0" transform="rotate(79 104.8 226.0)" fill="#34602a"/>
<ellipse cx="109.1" cy="198.6" rx="3.6" ry="1.4" transform="rotate(136 109.1 198.6)" fill="#2b5420"/>
<ellipse cx="140.2" cy="235.7" rx="3.6" ry="1.3" transform="rotate(122 140.2 235.7)" fill="#bfcabb"/>
<ellipse cx="146.5" cy="237.3" rx="2.5" ry="1.0" transform="rotate(14 146.5 237.3)" fill="#2b5420"/>
<ellipse cx="104.4" cy="199.9" rx="5.0" ry="2.5" transform="rotate(10 104.4 199.9)" fill="#658f44"/>
<ellipse cx="142.8" cy="221.6" rx="2.2" ry="1.2" transform="rotate(75 142.8 221.6)" fill="#4f7d36"/>
<ellipse cx="160.9" cy="239.9" rx="5.5" ry="2.1" transform="rotate(60 160.9 239.9)" fill="#2b5420"/>
<ellipse cx="109.7" cy="224.6" rx="4.1" ry="1.5" transform="rotate(69 109.7 224.6)" fill="#7ea552"/>
<ellipse cx="133.0" cy="223.1" rx="3.7" ry="1.3" transform="rotate(55 133.0 223.1)" fill="#26471c"/>
<ellipse cx="148.5" cy="242.1" rx="3.0" ry="1.2" transform="rotate(9 148.5 242.1)" fill="#bfcabb"/>
<ellipse cx="156.7" cy="231.1" rx="4.8" ry="1.9" transform="rotate(167 156.7 231.1)" fill="#bfcabb"/>
<ellipse cx="110.6" cy="245.6" rx="4.2" ry="1.5" transform="rotate(57 110.6 245.6)" fill="#3a6529"/>
<ellipse cx="123.8" cy="226.1" rx="3.3" ry="1.4" transform="rotate(143 123.8 226.1)" fill="#7ea552"/>
<ellipse cx="110.6" cy="206.5" rx="5.9" ry="3.0" transform="rotate(73 110.6 206.5)" fill="#34602a"/>
<ellipse cx="110.8" cy="206.2" rx="2.7" ry="1.5" transform="rotate(22 110.8 206.2)" fill="#4f7d36"/>
<ellipse cx="152.3" cy="199.0" rx="4.4" ry="1.7" transform="rotate(166 152.3 199.0)" fill="#4f7d36"/>
<ellipse cx="129.4" cy="232.1" rx="4.7" ry="2.0" transform="rotate(38 129.4 232.1)" fill="#4f7d36"/>
<ellipse cx="107.2" cy="245.5" rx="2.8" ry="1.1" transform="rotate(17 107.2 245.5)" fill="#3a6529"/>
<ellipse cx="157.9" cy="217.8" rx="4.6" ry="1.9" transform="rotate(163 157.9 217.8)" fill="#26471c"/>
<ellipse cx="107.8" cy="198.1" rx="4.8" ry="1.7" transform="rotate(151 107.8 198.1)" fill="#7ea552"/>
<ellipse cx="145.8" cy="243.1" rx="5.2" ry="2.7" transform="rotate(129 145.8 243.1)" fill="#7ea552"/>
<ellipse cx="155.4" cy="212.8" rx="5.4" ry="2.1" transform="rotate(144 155.4 212.8)" fill="#658f44"/>
<ellipse cx="122.7" cy="196.8" rx="3.5" ry="1.8" transform="rotate(40 122.7 196.8)" fill="#3a6529"/>
<ellipse cx="110.5" cy="203.2" rx="2.7" ry="1.2" transform="rotate(72 110.5 203.2)" fill="#2b5420"/>
<ellipse cx="150.2" cy="201.7" rx="5.7" ry="3.4" transform="rotate(169 150.2 201.7)" fill="#3a6529"/>
<ellipse cx="116.3" cy="214.1" rx="5.0" ry="2.4" transform="rotate(167 116.3 214.1)" fill="#3a6529"/>
<ellipse cx="110.6" cy="210.4" rx="3.2" ry="1.6" transform="rotate(136 110.6 210.4)" fill="#658f44"/>
<ellipse cx="106.8" cy="209.9" rx="5.6" ry="3.1" transform="rotate(41 106.8 209.9)" fill="#7ea552"/>
<ellipse cx="100.0" cy="227.9" rx="5.9" ry="2.6" transform="rotate(170 100.0 227.9)" fill="#7ea552"/>
<ellipse cx="101.2" cy="213.3" rx="3.8" ry="1.6" transform="rotate(134 101.2 213.3)" fill="#4f7d36"/>
<ellipse cx="104.9" cy="240.8" rx="5.2" ry="2.8" transform="rotate(82 104.9 240.8)" fill="#3a6529"/>
<ellipse cx="147.6" cy="227.8" rx="3.8" ry="1.4" transform="rotate(92 147.6 227.8)" fill="#3a6529"/>
<ellipse cx="124.0" cy="233.3" rx="3.7" ry="2.0" transform="rotate(14 124.0 233.3)" fill="#4f7d36"/>
<ellipse cx="120.6" cy="231.5" rx="2.4" ry="0.8" transform="rotate(116 120.6 231.5)" fill="#34602a"/>
<ellipse cx="117.1" cy="209.4" rx="2.4" ry="1.0" transform="rotate(28 117.1 209.4)" fill="#7ea552"/>
<ellipse cx="131.8" cy="201.5" rx="3.9" ry="1.5" transform="rotate(96 131.8 201.5)" fill="#7ea552"/>
<ellipse cx="121.1" cy="205.9" rx="3.6" ry="1.4" transform="rotate(23 121.1 205.9)" fill="#658f44"/>
<ellipse cx="143.8" cy="224.4" rx="3.0" ry="1.1" transform="rotate(19 143.8 224.4)" fill="#2b5420"/>
<ellipse cx="128.8" cy="238.5" rx="4.3" ry="2.2" transform="rotate(41 128.8 238.5)" fill="#4f7d36"/>
<ellipse cx="107.7" cy="209.5" rx="2.1" ry="1.0" transform="rotate(93 107.7 209.5)" fill="#7ea552"/>
<ellipse cx="133.9" cy="201.6" rx="4.7" ry="1.9" transform="rotate(44 133.9 201.6)" fill="#2b5420"/>
<ellipse cx="149.7" cy="199.0" rx="3.3" ry="1.3" transform="rotate(39 149.7 199.0)" fill="#4f7d36"/>
<ellipse cx="149.3" cy="213.8" rx="5.2" ry="2.4" transform="rotate(166 149.3 213.8)" fill="#2b5420"/>
<ellipse cx="118.0" cy="246.2" rx="5.1" ry="1.8" transform="rotate(142 118.0 246.2)" fill="#4f7d36"/>
<ellipse cx="144.2" cy="232.3" rx="2.6" ry="1.1" transform="rotate(25 144.2 232.3)" fill="#658f44"/>
<ellipse cx="156.3" cy="232.7" rx="4.8" ry="1.8" transform="rotate(1 156.3 232.7)" fill="#34602a"/>
<ellipse cx="100.4" cy="223.9" rx="3.3" ry="1.2" transform="rotate(109 100.4 223.9)" fill="#3a6529"/>
<ellipse cx="110.5" cy="229.4" rx="5.4" ry="2.9" transform="rotate(17 110.5 229.4)" fill="#bfcabb"/>
<ellipse cx="134.7" cy="239.2" rx="4.0" ry="2.2" transform="rotate(89 134.7 239.2)" fill="#7ea552"/>
<ellipse cx="150.2" cy="246.5" rx="5.6" ry="3.0" transform="rotate(150 150.2 246.5)" fill="#4f7d36"/>
<ellipse cx="125.4" cy="240.4" rx="5.1" ry="2.9" transform="rotate(54 125.4 240.4)" fill="#3a6529"/>
<ellipse cx="102.3" cy="238.1" rx="5.2" ry="2.8" transform="rotate(153 102.3 238.1)" fill="#658f44"/>
<ellipse cx="110.5" cy="220.2" rx="2.9" ry="1.4" transform="rotate(163 110.5 220.2)" fill="#2b5420"/>
<ellipse cx="122.7" cy="238.1" rx="5.2" ry="2.7" transform="rotate(170 122.7 238.1)" fill="#26471c"/>
<ellipse cx="123.6" cy="199.8" rx="4.6" ry="2.6" transform="rotate(61 123.6 199.8)" fill="#26471c"/>
<ellipse cx="148.0" cy="195.2" rx="4.0" ry="1.4" transform="rotate(20 148.0 195.2)" fill="#34602a"/>
<ellipse cx="124.4" cy="228.3" rx="3.8" ry="1.7" transform="rotate(38 124.4 228.3)" fill="#bfcabb"/>
<ellipse cx="122.8" cy="220.6" rx="2.1" ry="0.9" transform="rotate(179 122.8 220.6)" fill="#4f7d36"/>
<ellipse cx="142.2" cy="219.3" rx="4.6" ry="2.6" transform="rotate(22 142.2 219.3)" fill="#2b5420"/>
<ellipse cx="121.7" cy="244.3" rx="3.6" ry="1.5" transform="rotate(27 121.7 244.3)" fill="#4f7d36"/>
<ellipse cx="112.1" cy="243.9" rx="4.4" ry="2.5" transform="rotate(71 112.1 243.9)" fill="#34602a"/>
<ellipse cx="118.1" cy="243.2" rx="5.2" ry="2.6" transform="rotate(154 118.1 243.2)" fill="#4f7d36"/>
<ellipse cx="122.6" cy="195.5" rx="5.4" ry="2.0" transform="rotate(44 122.6 195.5)" fill="#7ea552"/>
<ellipse cx="144.4" cy="232.2" rx="5.9" ry="3.2" transform="rotate(136 144.4 232.2)" fill="#26471c"/>
<ellipse cx="106.5" cy="236.4" rx="3.0" ry="1.4" transform="rotate(93 106.5 236.4)" fill="#bfcabb"/>
<ellipse cx="126.0" cy="247.7" rx="3.4" ry="1.8" transform="rotate(114 126.0 247.7)" fill="#26471c"/>
<ellipse cx="157.1" cy="239.5" rx="2.2" ry="1.1" transform="rotate(89 157.1 239.5)" fill="#2b5420"/>
<ellipse cx="101.6" cy="240.9" rx="4.7" ry="2.3" transform="rotate(81 101.6 240.9)" fill="#4f7d36"/>
<ellipse cx="143.9" cy="236.2" rx="2.1" ry="0.9" transform="rotate(25 143.9 236.2)" fill="#7ea552"/>
<ellipse cx="107.1" cy="227.3" rx="4.3" ry="1.6" transform="rotate(71 107.1 227.3)" fill="#7ea552"/>
<ellipse cx="137.5" cy="208.3" rx="5.1" ry="1.8" transform="rotate(99 137.5 208.3)" fill="#26471c"/>
<ellipse cx="138.9" cy="239.3" rx="4.7" ry="2.1" transform="rotate(173 138.9 239.3)" fill="#bfcabb"/>
<ellipse cx="141.5" cy="210.3" rx="2.6" ry="1.3" transform="rotate(149 141.5 210.3)" fill="#bfcabb"/>
<ellipse cx="154.3" cy="206.0" rx="5.2" ry="1.9" transform="rotate(55 154.3 206.0)" fill="#4f7d36"/>
<ellipse cx="140.9" cy="244.9" rx="4.3" ry="2.6" transform="rotate(140 140.9 244.9)" fill="#bfcabb"/>
<ellipse cx="158.6" cy="205.3" rx="3.2" ry="1.9" transform="rotate(36 158.6 205.3)" fill="#bfcabb"/>
<ellipse cx="156.5" cy="217.2" rx="4.7" ry="2.1" transform="rotate(58 156.5 217.2)" fill="#34602a"/>
<ellipse cx="114.8" cy="206.2" rx="5.6" ry="2.6" transform="rotate(151 114.8 206.2)" fill="#4f7d36"/>
<ellipse cx="147.1" cy="212.3" rx="2.6" ry="1.4" transform="rotate(85 147.1 212.3)" fill="#26471c"/>
<ellipse cx="145.4" cy="210.1" rx="3.5" ry="2.0" transform="rotate(95 145.4 210.1)" fill="#7ea552"/>
<ellipse cx="151.6" cy="201.7" rx="3.8" ry="1.3" transform="rotate(96 151.6 201.7)" fill="#7ea552"/>
<ellipse cx="120.3" cy="246.7" rx="3.1" ry="1.3" transform="rotate(13 120.3 246.7)" fill="#3a6529"/>
<ellipse cx="145.5" cy="232.3" rx="3.7" ry="2.0" transform="rotate(20 145.5 232.3)" fill="#7ea552"/>
<ellipse cx="108.5" cy="204.7" rx="4.9" ry="2.6" transform="rotate(21 108.5 204.7)" fill="#26471c"/>
<ellipse cx="122.9" cy="246.7" rx="5.0" ry="2.2" transform="rotate(71 122.9 246.7)" fill="#bfcabb"/>
<ellipse cx="120.0" cy="205.2" rx="5.5" ry="2.6" transform="rotate(94 120.0 205.2)" fill="#7ea552"/>
<ellipse cx="106.4" cy="213.6" rx="2.3" ry="1.0" transform="rotate(90 106.4 213.6)" fill="#658f44"/>
<ellipse cx="134.4" cy="217.2" rx="4.3" ry="1.8" transform="rotate(152 134.4 217.2)" fill="#4f7d36"/>
<ellipse cx="107.5" cy="231.9" rx="5.0" ry="2.4" transform="rotate(162 107.5 231.9)" fill="#2b5420"/>
<ellipse cx="144.8" cy="240.2" rx="4.6" ry="2.6" transform="rotate(24 144.8 240.2)" fill="#26471c"/>
<ellipse cx="136.6" cy="210.1" rx="2.3" ry="1.1" transform="rotate(148 136.6 210.1)" fill="#7ea552"/>
<ellipse cx="136.3" cy="244.7" rx="3.2" ry="1.4" transform="rotate(102 136.3 244.7)" fill="#3a6529"/>
<ellipse cx="120.7" cy="233.5" rx="2.3" ry="1.3" transform="rotate(59 120.7 233.5)" fill="#2b5420"/>
<ellipse cx="126.8" cy="237.0" rx="3.8" ry="1.8" transform="rotate(176 126.8 237.0)" fill="#2b5420"/>
<ellipse cx="100.5" cy="240.5" rx="2.4" ry="1.0" transform="rotate(113 100.5 240.5)" fill="#bfcabb"/>
<ellipse cx="158.8" cy="224.2" rx="2.9" ry="1.4" transform="rotate(148 158.8 224.2)" fill="#7ea552"/>
<ellipse cx="150.9" cy="239.5" rx="4.1" ry="1.5" transform="rotate(140 150.9 239.5)" fill="#2b5420"/>
<ellipse cx="149.1" cy="209.7" rx="3.5" ry="2.1" transform="rotate(49 149.1 209.7)" fill="#3a6529"/>
<ellipse cx="134.8" cy="217.0" rx="4.0" ry="2.0" transform="rotate(41 134.8 217.0)" fill="#2b5420"/>
<ellipse cx="148.7" cy="247.9" rx="3.3" ry="2.0" transform="rotate(13 148.7 247.9)" fill="#34602a"/>
<ellipse cx="134.3" cy="218.7" rx="5.9" ry="3.4" transform="rotate(111 134.3 218.7)" fill="#658f44"/>
<ellipse cx="119.5" cy="205.4" rx="3.6" ry="1.5" transform="rotate(35 119.5 205.4)" fill="#2b5420"/>
<ellipse cx="125.6" cy="205.9" rx="4.8" ry="1.9" transform="rotate(48 125.6 205.9)" fill="#7ea552"/>
<ellipse cx="145.1" cy="247.2" rx="5.7" ry="3.0" transform="rotate(130 145.1 247.2)" fill="#3a6529"/>
<ellipse cx="120.3" cy="218.0" rx="5.3" ry="2.7" transform="rotate(135 120.3 218.0)" fill="#7ea552"/>
<ellipse cx="133.1" cy="229.5" rx="4.3" ry="1.8" transform="rotate(64 133.1 229.5)" fill="#3a6529"/>
<ellipse cx="100.8" cy="204.6" rx="3.4" ry="2.0" transform="rotate(145 100.8 204.6)" fill="#34602a"/>
<ellipse cx="146.7" cy="213.9" rx="5.4" ry="2.4" transform="rotate(159 146.7 213.9)" fill="#34602a"/>
<ellipse cx="160.4" cy="245.1" rx="5.2" ry="2.4" transform="rotate(148 160.4 245.1)" fill="#4f7d36"/>
<ellipse cx="151.5" cy="224.1" rx="3.0" ry="1.3" transform="rotate(64 151.5 224.1)" fill="#2b5420"/>
<ellipse cx="157.1" cy="205.6" rx="3.1" ry="1.7" transform="rotate(93 157.1 205.6)" fill="#26471c"/>
<ellipse cx="108.1" cy="244.3" rx="3.7" ry="1.4" transform="rotate(20 108.1 244.3)" fill="#26471c"/>
<ellipse cx="99.7" cy="239.7" rx="5.9" ry="2.2" transform="rotate(140 99.7 239.7)" fill="#658f44"/>
<ellipse cx="154.0" cy="224.4" rx="2.3" ry="1.0" transform="rotate(112 154.0 224.4)" fill="#34602a"/>
<ellipse cx="128.5" cy="230.2" rx="2.8" ry="1.2" transform="rotate(163 128.5 230.2)" fill="#26471c"/>
<ellipse cx="153.5" cy="200.4" rx="5.5" ry="3.2" transform="rotate(79 153.5 200.4)" fill="#34602a"/>
<ellipse cx="146.0" cy="226.4" rx="4.9" ry="2.8" transform="rotate(30 146.0 226.4)" fill="#658f44"/>
<ellipse cx="143.2" cy="220.8" rx="5.5" ry="2.8" transform="rotate(21 143.2 220.8)" fill="#34602a"/>
<ellipse cx="135.7" cy="198.5" rx="3.0" ry="1.8" transform="rotate(41 135.7 198.5)" fill="#26471c"/>
<ellipse cx="133.7" cy="236.0" rx="2.9" ry="1.5" transform="rotate(117 133.7 236.0)" fill="#658f44"/>
<ellipse cx="103.9" cy="248.7" rx="5.2" ry="1.9" transform="rotate(9 103.9 248.7)" fill="#658f44"/>
<ellipse cx="157.3" cy="247.8" rx="5.1" ry="1.8" transform="rotate(100 157.3 247.8)" fill="#26471c"/>
<ellipse cx="114.6" cy="203.4" rx="2.1" ry="1.1" transform="rotate(19 114.6 203.4)" fill="#3a6529"/>
<ellipse cx="109.8" cy="239.4" rx="2.7" ry="1.3" transform="rotate(19 109.8 239.4)" fill="#26471c"/>
<ellipse cx="155.7" cy="195.1" rx="5.4" ry="2.6" transform="rotate(148 155.7 195.1)" fill="#3a6529"/>
<ellipse cx="142.5" cy="231.4" rx="4.5" ry="2.1" transform="rotate(121 142.5 231.4)" fill="#658f44"/>
<ellipse cx="99.5" cy="240.6" rx="5.2" ry="2.4" transform="rotate(22 99.5 240.6)" fill="#658f44"/>
<ellipse cx="140.3" cy="249.1" rx="4.5" ry="1.7" transform="rotate(94 140.3 249.1)" fill="#3a6529"/>
<ellipse cx="103.5" cy="208.1" rx="5.5" ry="3.3" transform="rotate(16 103.5 208.1)" fill="#7ea552"/>
<ellipse cx="117.1" cy="236.9" rx="2.6" ry="1.3" transform="rotate(176 117.1 236.9)" fill="#658f44"/>
<ellipse cx="98.4" cy="199.1" rx="2.5" ry="1.3" transform="rotate(108 98.4 199.1)" fill="#26471c"/>
<ellipse cx="126.7" cy="217.4" rx="4.4" ry="2.3" transform="rotate(165 126.7 217.4)" fill="#3a6529"/>
<ellipse cx="155.5" cy="241.0" rx="4.9" ry="1.7" transform="rotate(123 155.5 241.0)" fill="#26471c"/>
<ellipse cx="148.5" cy="198.0" rx="4.5" ry="1.9" transform="rotate(46 148.5 198.0)" fill="#4f7d36"/>
<ellipse cx="113.9" cy="211.5" rx="3.4" ry="1.5" transform="rotate(17 113.9 211.5)" fill="#34602a"/>
<ellipse cx="108.3" cy="247.1" rx="4.6" ry="2.2" transform="rotate(112 108.3 247.1)" fill="#bfcabb"/>
<ellipse cx="115.3" cy="208.7" rx="3.6" ry="1.3" transform="rotate(42 115.3 208.7)" fill="#bfcabb"/>
<ellipse cx="156.0" cy="213.1" rx="5.1" ry="2.8" transform="rotate(160 156.0 213.1)" fill="#3a6529"/>
<ellipse cx="131.5" cy="200.8" rx="5.3" ry="2.3" transform="rotate(113 131.5 200.8)" fill="#bfcabb"/>
<ellipse cx="102.0" cy="201.7" rx="3.8" ry="1.5" transform="rotate(10 102.0 201.7)" fill="#658f44"/>
<ellipse cx="157.1" cy="217.4" rx="5.7" ry="3.0" transform="rotate(174 157.1 217.4)" fill="#3a6529"/>
<ellipse cx="138.8" cy="207.0" rx="5.0" ry="2.9" transform="rotate(129 138.8 207.0)" fill="#26471c"/>
<ellipse cx="143.1" cy="249.4" rx="2.7" ry="1.2" transform="rotate(124 143.1 249.4)" fill="#7ea552"/>
<ellipse cx="145.4" cy="208.7" rx="3.0" ry="1.1" transform="rotate(124 145.4 208.7)" fill="#658f44"/>
<ellipse cx="138.4" cy="229.0" rx="4.6" ry="2.5" transform="rotate(26 138.4 229.0)" fill="#3a6529"/>
<ellipse cx="135.7" cy="233.2" rx="3.2" ry="1.2" transform="rotate(12 135.7 233.2)" fill="#2b5420"/>
<ellipse cx="102.6" cy="199.1" rx="4.2" ry="2.2" transform="rotate(117 102.6 199.1)" fill="#7ea552"/>
<ellipse cx="156.0" cy="219.8" rx="5.6" ry="2.3" transform="rotate(71 156.0 219.8)" fill="#4f7d36"/>
<ellipse cx="126.0" cy="235.1" rx="2.4" ry="1.4" transform="rotate(62 126.0 235.1)" fill="#658f44"/>
<ellipse cx="99.9" cy="240.6" rx="2.9" ry="1.6" transform="rotate(145 99.9 240.6)" fill="#bfcabb"/>
<ellipse cx="115.5" cy="195.5" rx="2.8" ry="1.6" transform="rotate(28 115.5 195.5)" fill="#7ea552"/>
<ellipse cx="139.7" cy="204.9" rx="2.6" ry="1.0" transform="rotate(177 139.7 204.9)" fill="#26471c"/>
<ellipse cx="114.0" cy="199.9" rx="4.3" ry="1.6" transform="rotate(53 114.0 199.9)" fill="#7ea552"/>
<ellipse cx="151.7" cy="202.2" rx="5.9" ry="2.6" transform="rotate(130 151.7 202.2)" fill="#4f7d36"/>
<ellipse cx="121.3" cy="235.5" rx="3.5" ry="1.4" transform="rotate(119 121.3 235.5)" fill="#658f44"/>
<ellipse cx="155.3" cy="204.1" rx="5.0" ry="2.9" transform="rotate(5 155.3 204.1)" fill="#658f44"/>
<ellipse cx="153.9" cy="236.9" rx="5.4" ry="2.2" transform="rotate(161 153.9 236.9)" fill="#7ea552"/>
<ellipse cx="152.8" cy="197.8" rx="4.7" ry="2.6" transform="rotate(42 152.8 197.8)" fill="#2b5420"/>
<ellipse cx="127.8" cy="221.8" rx="2.4" ry="1.2" transform="rotate(89 127.8 221.8)" fill="#26471c"/>
<ellipse cx="105.4" cy="221.4" rx="2.7" ry="1.1" transform="rotate(79 105.4 221.4)" fill="#3a6529"/>
<ellipse cx="110.0" cy="209.6" rx="3.8" ry="1.5" transform="rotate(61 110.0 209.6)" fill="#2b5420"/>
<ellipse cx="102.5" cy="207.2" rx="5.0" ry="2.4" transform="rotate(157 102.5 207.2)" fill="#26471c"/>
<ellipse cx="104.9" cy="246.9" rx="4.1" ry="1.7" transform="rotate(31 104.9 246.9)" fill="#bfcabb"/>
<ellipse cx="111.4" cy="199.6" rx="3.1" ry="1.8" transform="rotate(83 111.4 199.6)" fill="#4f7d36"/>
<ellipse cx="102.7" cy="219.9" rx="3.3" ry="1.3" transform="rotate(119 102.7 219.9)" fill="#bfcabb"/>
<ellipse cx="102.3" cy="279.0" rx="2.9" ry="1.2" transform="rotate(92 102.3 279.0)" fill="#4a7a33"/>
<ellipse cx="138.5" cy="278.2" rx="1.6" ry="0.8" transform="rotate(139 138.5 278.2)" fill="#7fae52"/>
<ellipse cx="139.0" cy="254.4" rx="3.9" ry="2.3" transform="rotate(133 139.0 254.4)" fill="#d9ded6"/>
<ellipse cx="139.4" cy="276.6" rx="3.6" ry="1.3" transform="rotate(83 139.4 276.6)" fill="#5f8f42"/>
<ellipse cx="126.3" cy="285.4" rx="2.4" ry="1.4" transform="rotate(151 126.3 285.4)" fill="#cdd5c9"/>
<ellipse cx="145.2" cy="273.7" rx="4.3" ry="1.9" transform="rotate(122 145.2 273.7)" fill="#4a7a33"/>
<ellipse cx="120.7" cy="269.3" rx="1.7" ry="0.8" transform="rotate(154 120.7 269.3)" fill="#c2cabd"/>
<ellipse cx="140.4" cy="257.3" rx="4.2" ry="1.7" transform="rotate(85 140.4 257.3)" fill="#cdd5c9"/>
<ellipse cx="161.0" cy="268.1" rx="2.2" ry="1.3" transform="rotate(58 161.0 268.1)" fill="#8cb35e"/>
<ellipse cx="109.2" cy="266.2" rx="3.6" ry="1.8" transform="rotate(139 109.2 266.2)" fill="#a3c67a"/>
<ellipse cx="150.2" cy="248.0" rx="3.3" ry="1.4" transform="rotate(82 150.2 248.0)" fill="#8cb35e"/>
<ellipse cx="106.7" cy="258.6" rx="1.9" ry="1.1" transform="rotate(27 106.7 258.6)" fill="#7fae52"/>
<ellipse cx="160.9" cy="254.0" rx="2.5" ry="1.3" transform="rotate(30 160.9 254.0)" fill="#8cb35e"/>
<ellipse cx="108.6" cy="273.8" rx="2.9" ry="1.3" transform="rotate(160 108.6 273.8)" fill="#a3c67a"/>
<ellipse cx="152.2" cy="290.1" rx="2.3" ry="1.4" transform="rotate(73 152.2 290.1)" fill="#4a7a33"/>
<ellipse cx="125.4" cy="284.1" rx="4.4" ry="2.5" transform="rotate(13 125.4 284.1)" fill="#7fae52"/>
<ellipse cx="152.8" cy="266.5" rx="3.1" ry="1.7" transform="rotate(145 152.8 266.5)" fill="#5f8f42"/>
<ellipse cx="126.1" cy="270.0" rx="3.1" ry="1.6" transform="rotate(67 126.1 270.0)" fill="#a3c67a"/>
<ellipse cx="125.5" cy="274.1" rx="2.3" ry="1.0" transform="rotate(155 125.5 274.1)" fill="#cdd5c9"/>
<ellipse cx="138.5" cy="266.1" rx="4.4" ry="1.8" transform="rotate(148 138.5 266.1)" fill="#4a7a33"/>
<ellipse cx="137.3" cy="268.8" rx="3.5" ry="1.9" transform="rotate(2 137.3 268.8)" fill="#c2cabd"/>
<ellipse cx="119.4" cy="281.5" rx="4.4" ry="2.5" transform="rotate(84 119.4 281.5)" fill="#d9ded6"/>
<ellipse cx="147.5" cy="258.2" rx="2.8" ry="1.6" transform="rotate(37 147.5 258.2)" fill="#8cb35e"/>
<ellipse cx="123.3" cy="253.9" rx="3.7" ry="1.7" transform="rotate(127 123.3 253.9)" fill="#8cb35e"/>
<ellipse cx="139.8" cy="281.7" rx="1.9" ry="0.8" transform="rotate(39 139.8 281.7)" fill="#cdd5c9"/>
<ellipse cx="105.1" cy="270.4" rx="4.2" ry="2.1" transform="rotate(116 105.1 270.4)" fill="#c2cabd"/>
<ellipse cx="134.7" cy="289.5" rx="3.2" ry="1.4" transform="rotate(127 134.7 289.5)" fill="#8cb35e"/>
<ellipse cx="117.8" cy="283.7" rx="3.6" ry="1.9" transform="rotate(141 117.8 283.7)" fill="#8cb35e"/>
<ellipse cx="121.3" cy="290.3" rx="3.8" ry="2.1" transform="rotate(116 121.3 290.3)" fill="#a3c67a"/>
<ellipse cx="142.4" cy="290.5" rx="2.1" ry="1.1" transform="rotate(54 142.4 290.5)" fill="#cdd5c9"/>
<ellipse cx="108.3" cy="250.8" rx="2.9" ry="1.5" transform="rotate(138 108.3 250.8)" fill="#4a7a33"/>
<ellipse cx="110.5" cy="248.7" rx="3.1" ry="1.6" transform="rotate(49 110.5 248.7)" fill="#5f8f42"/>
<ellipse cx="148.3" cy="284.8" rx="1.8" ry="0.7" transform="rotate(31 148.3 284.8)" fill="#7fae52"/>
<ellipse cx="114.7" cy="279.3" rx="4.5" ry="1.6" transform="rotate(21 114.7 279.3)" fill="#5f8f42"/>
<ellipse cx="159.1" cy="254.5" rx="2.5" ry="1.2" transform="rotate(58 159.1 254.5)" fill="#8cb35e"/>
<ellipse cx="145.1" cy="286.5" rx="2.5" ry="1.5" transform="rotate(48 145.1 286.5)" fill="#cdd5c9"/>
<ellipse cx="103.8" cy="275.5" rx="3.6" ry="1.5" transform="rotate(143 103.8 275.5)" fill="#d9ded6"/>
<ellipse cx="119.5" cy="269.6" rx="2.1" ry="1.2" transform="rotate(101 119.5 269.6)" fill="#4a7a33"/>
<ellipse cx="145.3" cy="284.9" rx="2.8" ry="1.2" transform="rotate(3 145.3 284.9)" fill="#cdd5c9"/>
<ellipse cx="148.2" cy="283.3" rx="1.8" ry="0.9" transform="rotate(34 148.2 283.3)" fill="#c2cabd"/>
<ellipse cx="148.7" cy="282.8" rx="2.2" ry="0.8" transform="rotate(119 148.7 282.8)" fill="#8cb35e"/>
<ellipse cx="106.7" cy="256.5" rx="3.2" ry="1.2" transform="rotate(114 106.7 256.5)" fill="#a3c67a"/>
<ellipse cx="145.3" cy="270.1" rx="3.1" ry="1.3" transform="rotate(10 145.3 270.1)" fill="#a3c67a"/>
<ellipse cx="143.6" cy="257.7" rx="2.4" ry="1.2" transform="rotate(124 143.6 257.7)" fill="#a3c67a"/>
<ellipse cx="154.8" cy="257.0" rx="2.4" ry="1.3" transform="rotate(47 154.8 257.0)" fill="#7fae52"/>
<ellipse cx="101.9" cy="268.4" rx="2.5" ry="1.3" transform="rotate(123 101.9 268.4)" fill="#cdd5c9"/>
<ellipse cx="123.0" cy="271.0" rx="2.4" ry="1.3" transform="rotate(57 123.0 271.0)" fill="#cdd5c9"/>
<ellipse cx="101.1" cy="270.6" rx="2.0" ry="1.1" transform="rotate(158 101.1 270.6)" fill="#c2cabd"/>
<ellipse cx="99.9" cy="262.1" rx="3.9" ry="2.0" transform="rotate(157 99.9 262.1)" fill="#c2cabd"/>
<ellipse cx="131.3" cy="282.1" rx="1.8" ry="0.7" transform="rotate(70 131.3 282.1)" fill="#c2cabd"/>
<ellipse cx="102.2" cy="283.4" rx="3.0" ry="1.4" transform="rotate(153 102.2 283.4)" fill="#8cb35e"/>
<ellipse cx="146.5" cy="264.4" rx="2.8" ry="1.7" transform="rotate(168 146.5 264.4)" fill="#4a7a33"/>
<ellipse cx="104.6" cy="268.1" rx="3.4" ry="1.4" transform="rotate(7 104.6 268.1)" fill="#7fae52"/>
<ellipse cx="102.0" cy="278.1" rx="1.6" ry="0.8" transform="rotate(153 102.0 278.1)" fill="#d9ded6"/>
<ellipse cx="125.6" cy="251.8" rx="2.7" ry="1.0" transform="rotate(173 125.6 251.8)" fill="#4a7a33"/>
<ellipse cx="100.0" cy="288.0" rx="3.5" ry="1.7" transform="rotate(126 100.0 288.0)" fill="#d9ded6"/>
<ellipse cx="108.3" cy="271.4" rx="4.0" ry="1.6" transform="rotate(31 108.3 271.4)" fill="#8cb35e"/>
<ellipse cx="142.6" cy="263.9" rx="4.2" ry="1.9" transform="rotate(99 142.6 263.9)" fill="#5f8f42"/>
<ellipse cx="114.4" cy="280.6" rx="4.2" ry="2.4" transform="rotate(85 114.4 280.6)" fill="#7fae52"/>
<ellipse cx="136.1" cy="260.7" rx="2.9" ry="1.5" transform="rotate(132 136.1 260.7)" fill="#7fae52"/>
<ellipse cx="145.2" cy="288.3" rx="3.0" ry="1.7" transform="rotate(92 145.2 288.3)" fill="#a3c67a"/>
<ellipse cx="99.7" cy="270.6" rx="3.9" ry="2.1" transform="rotate(176 99.7 270.6)" fill="#d9ded6"/>
<ellipse cx="117.7" cy="280.1" rx="4.0" ry="2.1" transform="rotate(119 117.7 280.1)" fill="#4a7a33"/>
<ellipse cx="149.8" cy="286.0" rx="3.2" ry="1.1" transform="rotate(137 149.8 286.0)" fill="#4a7a33"/>
<ellipse cx="154.7" cy="289.9" rx="2.5" ry="1.4" transform="rotate(147 154.7 289.9)" fill="#cdd5c9"/>
<ellipse cx="157.8" cy="261.3" rx="3.4" ry="1.5" transform="rotate(51 157.8 261.3)" fill="#a3c67a"/>
<ellipse cx="98.8" cy="277.7" rx="3.8" ry="2.0" transform="rotate(102 98.8 277.7)" fill="#a3c67a"/>
<ellipse cx="149.5" cy="276.3" rx="1.7" ry="0.9" transform="rotate(31 149.5 276.3)" fill="#7fae52"/>
<ellipse cx="149.2" cy="259.1" rx="3.5" ry="1.5" transform="rotate(151 149.2 259.1)" fill="#7fae52"/>
<ellipse cx="113.1" cy="279.4" rx="3.5" ry="1.3" transform="rotate(161 113.1 279.4)" fill="#7fae52"/>
<ellipse cx="151.4" cy="286.7" rx="1.9" ry="1.1" transform="rotate(134 151.4 286.7)" fill="#4a7a33"/>
<ellipse cx="148.0" cy="285.1" rx="4.4" ry="2.6" transform="rotate(85 148.0 285.1)" fill="#c2cabd"/>
<ellipse cx="147.3" cy="286.3" rx="2.1" ry="0.9" transform="rotate(45 147.3 286.3)" fill="#5f8f42"/>
<ellipse cx="105.5" cy="287.0" rx="4.2" ry="1.5" transform="rotate(67 105.5 287.0)" fill="#5f8f42"/>
<ellipse cx="129.4" cy="250.3" rx="4.1" ry="2.1" transform="rotate(56 129.4 250.3)" fill="#c2cabd"/>
<ellipse cx="158.1" cy="261.6" rx="3.4" ry="1.9" transform="rotate(85 158.1 261.6)" fill="#d9ded6"/>
<ellipse cx="144.2" cy="261.7" rx="4.1" ry="2.0" transform="rotate(19 144.2 261.7)" fill="#5f8f42"/>
<ellipse cx="128.5" cy="266.3" rx="4.1" ry="2.1" transform="rotate(37 128.5 266.3)" fill="#d9ded6"/>
<ellipse cx="132.2" cy="288.8" rx="3.5" ry="2.0" transform="rotate(118 132.2 288.8)" fill="#4a7a33"/>
<ellipse cx="127.1" cy="273.0" rx="1.6" ry="0.6" transform="rotate(180 127.1 273.0)" fill="#7fae52"/>
<ellipse cx="131.0" cy="284.1" rx="3.9" ry="1.7" transform="rotate(40 131.0 284.1)" fill="#4a7a33"/>
<ellipse cx="111.8" cy="286.9" rx="4.5" ry="2.1" transform="rotate(69 111.8 286.9)" fill="#5f8f42"/>
<ellipse cx="156.6" cy="256.9" rx="2.4" ry="1.0" transform="rotate(132 156.6 256.9)" fill="#7fae52"/>
<ellipse cx="129.0" cy="281.1" rx="1.5" ry="0.9" transform="rotate(109 129.0 281.1)" fill="#8cb35e"/>
<ellipse cx="161.0" cy="272.7" rx="3.9" ry="1.5" transform="rotate(164 161.0 272.7)" fill="#5f8f42"/>
<ellipse cx="152.7" cy="263.9" rx="4.3" ry="1.7" transform="rotate(4 152.7 263.9)" fill="#a3c67a"/>
<ellipse cx="130.2" cy="289.0" rx="3.2" ry="1.2" transform="rotate(114 130.2 289.0)" fill="#4a7a33"/>
<ellipse cx="124.7" cy="274.5" rx="2.3" ry="1.0" transform="rotate(76 124.7 274.5)" fill="#c2cabd"/>
<ellipse cx="101.4" cy="282.0" rx="3.9" ry="2.3" transform="rotate(30 101.4 282.0)" fill="#a3c67a"/>
<ellipse cx="131.9" cy="258.2" rx="4.0" ry="1.6" transform="rotate(31 131.9 258.2)" fill="#a3c67a"/>
<ellipse cx="159.5" cy="279.7" rx="1.8" ry="0.9" transform="rotate(107 159.5 279.7)" fill="#a3c67a"/>
<ellipse cx="115.2" cy="284.9" rx="4.3" ry="1.6" transform="rotate(170 115.2 284.9)" fill="#c2cabd"/>
<ellipse cx="152.8" cy="286.2" rx="4.2" ry="2.1" transform="rotate(75 152.8 286.2)" fill="#d9ded6"/>
<ellipse cx="127.0" cy="276.1" rx="4.5" ry="1.9" transform="rotate(138 127.0 276.1)" fill="#a3c67a"/>
<ellipse cx="160.8" cy="258.0" rx="4.1" ry="1.8" transform="rotate(78 160.8 258.0)" fill="#cdd5c9"/>
<ellipse cx="108.2" cy="257.6" rx="1.8" ry="0.7" transform="rotate(57 108.2 257.6)" fill="#cdd5c9"/>
<ellipse cx="109.6" cy="269.1" rx="2.8" ry="1.7" transform="rotate(88 109.6 269.1)" fill="#cdd5c9"/>
<ellipse cx="127.7" cy="256.7" rx="3.3" ry="1.3" transform="rotate(30 127.7 256.7)" fill="#5f8f42"/>
<ellipse cx="120.2" cy="264.9" rx="1.7" ry="0.6" transform="rotate(132 120.2 264.9)" fill="#d9ded6"/>
<ellipse cx="120.2" cy="278.4" rx="2.7" ry="1.0" transform="rotate(156 120.2 278.4)" fill="#4a7a33"/>
<ellipse cx="100.6" cy="282.5" rx="2.9" ry="1.4" transform="rotate(128 100.6 282.5)" fill="#8cb35e"/>
<ellipse cx="158.0" cy="275.3" rx="2.0" ry="1.0" transform="rotate(134 158.0 275.3)" fill="#4a7a33"/>
<ellipse cx="157.8" cy="254.4" rx="2.6" ry="1.5" transform="rotate(142 157.8 254.4)" fill="#a3c67a"/>
<ellipse cx="119.4" cy="289.6" rx="3.1" ry="1.4" transform="rotate(33 119.4 289.6)" fill="#5f8f42"/>
<ellipse cx="106.6" cy="287.8" rx="4.4" ry="2.2" transform="rotate(145 106.6 287.8)" fill="#c2cabd"/>
<ellipse cx="129.2" cy="264.0" rx="4.2" ry="1.8" transform="rotate(96 129.2 264.0)" fill="#d9ded6"/>
<ellipse cx="138.3" cy="269.0" rx="2.5" ry="1.1" transform="rotate(110 138.3 269.0)" fill="#cdd5c9"/>
<ellipse cx="99.1" cy="283.2" rx="1.7" ry="0.9" transform="rotate(113 99.1 283.2)" fill="#4a7a33"/>
<ellipse cx="115.4" cy="262.6" rx="4.0" ry="1.5" transform="rotate(124 115.4 262.6)" fill="#4a7a33"/>
<ellipse cx="102.8" cy="257.2" rx="3.7" ry="1.4" transform="rotate(56 102.8 257.2)" fill="#a3c67a"/>
<ellipse cx="143" cy="214" rx="6" ry="9" transform="rotate(20 143 214)" fill="#62904a"/>
<ellipse cx="150" cy="230" rx="8" ry="5" transform="rotate(-10 150 230)" fill="#3f6e2c"/>
<ellipse cx="140" cy="248" rx="9" ry="4" transform="rotate(-15 140 248)" fill="#35602a"/>
<ellipse cx="108" cy="238" rx="6" ry="3" transform="rotate(-30 108 238)" fill="#8fc055"/>
<ellipse cx="152" cy="275" rx="6" ry="3" transform="rotate(-20 152 275)" fill="#5f8f42"/>
<rect x="27" y="195" width="134" height="1.5" fill="#e4eae0"/>
<rect x="29.5" y="250" width="2.2" height="42" fill="#c9ac7e"/>
<rect x="38.5" y="245" width="2.2" height="47" fill="#cdb186"/>
<rect x="85.4" y="250" width="2.2" height="40" fill="#cbb088"/>
<rect x="98.5" y="250" width="2.5" height="45" fill="#cbb088"/>
<rect x="123.6" y="195" width="2.6" height="105" fill="#bda37c"/>
<rect x="154.8" y="195" width="3.2" height="105" fill="#c2a67c"/>
<rect x="139" y="255" width="4" height="55" fill="#d3b584"/>
<rect x="146" y="250" width="5" height="60" fill="#d6b988"/>
<rect x="125" y="255" width="4.5" height="50" fill="#d2b586"/>
<rect x="123.0" y="204" width="3.5" height="2" fill="#39a59a"/>
<rect x="122.5" y="225" width="3.5" height="2" fill="#39a59a"/>
<rect x="124.0" y="261" width="3.5" height="2" fill="#39a59a"/>
<rect x="153.5" y="207" width="3.5" height="2" fill="#39a59a"/>
<rect x="153.5" y="231" width="3.5" height="2" fill="#39a59a"/>
<rect x="139.5" y="267" width="3.5" height="2" fill="#39a59a"/>
<rect x="146.0" y="275" width="3.5" height="2" fill="#39a59a"/>
<rect x="138.5" y="289" width="3.5" height="2" fill="#39a59a"/>
<rect x="146.5" y="301" width="3.5" height="2" fill="#39a59a"/>
<rect x="94.5" y="216" width="3.5" height="2" fill="#39a59a"/>
<rect x="94.5" y="261" width="3.5" height="2" fill="#39a59a"/>
<rect x="33.5" y="257" width="3.5" height="2" fill="#39a59a"/>
<rect x="28.5" y="275" width="3.5" height="2" fill="#39a59a"/>
<rect x="85.5" y="279" width="3.5" height="2" fill="#39a59a"/>
<rect x="98" y="270" width="63" height="1" fill="#6b7470" opacity="0.6"/>
<rect x="27" y="290" width="134" height="48" fill="#2f3031"/>
<rect x="27" y="288" width="18" height="4" fill="#5b605c"/>
<rect x="73" y="298" width="88" height="40" fill="#333436"/>
<path d="M79 300 L79 338 M88 300 L88 338 M98 302 L98 338 M108 300 L108 338 M120 305 L120 338 M131 305 L131 338 M144 306 L144 338 M154 305 L154 338" stroke="#4b4c4e" stroke-width="1.3"/>
<rect x="72" y="297" width="89" height="2.5" fill="#4a4b4d"/>
<polygon points="27,320 43,320 43,338 27,338" fill="#c9b48e"/>
<rect x="27" y="327" width="16" height="1.5" fill="#a58f68"/>
<rect x="50" y="286" width="33" height="45" fill="#5d636a"/>
<rect x="52.5" y="288" width="4" height="18" fill="#7a828c"/>
<rect x="52.5" y="306" width="4" height="13" fill="#9aa1a8"/>
<rect x="59.5" y="288" width="4" height="18" fill="#7a828c"/>
<rect x="59.5" y="306" width="4" height="13" fill="#9aa1a8"/>
<rect x="66.5" y="288" width="4" height="18" fill="#7a828c"/>
<rect x="66.5" y="306" width="4" height="13" fill="#9aa1a8"/>
<rect x="74" y="288" width="4" height="18" fill="#7a828c"/>
<rect x="74" y="306" width="4" height="13" fill="#9aa1a8"/>
<rect x="50" y="319" width="31" height="11" fill="#1f2021"/>
<path d="M55 319 L55 330 M62 319 L62 330 M69 319 L69 330 M76 319 L76 330" stroke="#8a9096" stroke-width="0.8"/>
<rect x="49" y="285" width="36" height="3.5" fill="#d6d9dc"/>
<rect x="49" y="299" width="24" height="2.2" fill="#d0d3d6"/>
<rect x="49" y="310" width="24" height="1.5" fill="#c4c7ca"/>
<rect x="40" y="329" width="34" height="3" fill="#a0a3a5"/>
<rect x="27" y="332" width="134" height="6" fill="#3d3e3f"/>
<rect x="27" y="320" width="16" height="18" fill="#c9b48e"/>
<rect x="27" y="327" width="16" height="1.5" fill="#a58f68"/>
<rect x="59" y="260" width="25" height="25" fill="#8d968c" opacity="0.6"/>
<rect x="61" y="260" width="2.2" height="25" fill="#a9afb5"/><rect x="66.5" y="260" width="2" height="25" fill="#cdd2d6"/><rect x="71.5" y="260" width="2.2" height="25" fill="#a9afb5"/><rect x="77" y="260" width="2" height="25" fill="#cdd2d6"/>
<rect x="51" y="214.8" width="33" height="2.9" fill="#c5c8ca"/>
<rect x="51" y="217.7" width="33" height="1.3" fill="#7f8a7c"/>
<rect x="60.5" y="218" width="23" height="42" fill="#e4e5e7"/>
<rect x="63.8" y="219" width="0.9" height="40" fill="#babdc0"/><rect x="71.5" y="219" width="0.9" height="40" fill="#c4c7ca"/><rect x="78" y="219" width="0.9" height="40" fill="#c4c7ca"/>
<circle cx="66.8" cy="228" r="0.8" fill="#6a6a6a"/><circle cx="77" cy="228" r="0.8" fill="#6a6a6a"/><circle cx="66.8" cy="257" r="0.8" fill="#6a6a6a"/><circle cx="77" cy="257" r="0.8" fill="#6a6a6a"/>
<rect x="59" y="259.5" width="26" height="1.5" fill="#9aa0a4"/>
<polygon points="46,205.6 57.4,205.6 57.4,215 55,215 54,331 44.5,331 " fill="url(#gwoodb)"/>
<polygon points="89.5,198 92,198 93,228 91,228" fill="#cdb690"/>
<polygon points="95,200 97,200 97.5,228 95.5,228" fill="#c9b18a"/>
<polygon points="91.5,226 98,226 97.8,300 91,300" fill="url(#gwoodc)"/>
<rect x="126.7" y="288" width="4" height="17" fill="#cfb386"/>
<rect x="142.2" y="288" width="4.6" height="21" fill="#d3b584"/>
<rect x="142.2" y="306" width="4.6" height="3" fill="#c0262a"/>
<rect x="78" y="291.5" width="12" height="5.5" fill="#d9dcde"/>
<rect x="94" y="292" width="12.6" height="6" fill="#dfe2e4"/>
<rect x="118.4" y="296.5" width="14.6" height="6.3" fill="#dcdfe1"/>
<polygon points="136.4,297 151,289 153,294.5 138.5,302.5" fill="#e2e5e7"/>
<path d="M104 299 Q90 318 78 338 M100 312 Q90 325 82 338 M137.8 302 Q128 318 117 333 M133 300 Q124 308 117 318 M117 318 Q108 326 100 338 M83 297 Q72 318 62 338" stroke="#a3abb2" stroke-width="1.5" fill="none"/>
</g></svg>
<svg width="685" height="339" viewBox="0 0 685 339" style="filter:blur(0.35px)">
<text x="-0.2" y="15.7" class="pl" style="font-size:21.6px">a)</text>
<text x="-0.4" y="209.3" class="pl" style="font-size:21.6px">b)</text>
<text x="172.8" y="16.2" class="pl">c)</text>
<polygon points="197,2 227,2 213.1,306" fill="#fb3b3b"/>
<text transform="translate(217.6,84.7) rotate(-90)" style="font-family:'Liberation Sans',sans-serif;font-size:16.7px;fill:#0a0a0a;">Infection</text>
<text transform="translate(248.6,215.8) rotate(-90)" class="ttl">Relative Expression</text>
<text transform="translate(262.9,216.8) rotate(-90)" class="ttl" xml:space="preserve">Fold  Change (Log<tspan font-size="7.6" dy="3.2">2</tspan><tspan dy="-3.2">)</tspan></text>
<line x1="297.4" y1="12.94" x2="297.4" y2="317.04" stroke="#000" stroke-width="1.3"/>
<line x1="291.6" y1="13.44" x2="297.4" y2="13.44" stroke="#000" stroke-width="1.2"/>
<line x1="294.2" y1="39.14" x2="297.4" y2="39.14" stroke="#000" stroke-width="0.9"/>
<line x1="294.2" y1="34.98" x2="297.4" y2="34.98" stroke="#000" stroke-width="0.9"/>
<line x1="294.2" y1="31.17" x2="297.4" y2="31.17" stroke="#000" stroke-width="0.9"/>
<line x1="294.2" y1="27.67" x2="297.4" y2="27.67" stroke="#000" stroke-width="0.9"/>
<line x1="294.2" y1="24.43" x2="297.4" y2="24.43" stroke="#000" stroke-width="0.9"/>
<line x1="294.2" y1="21.41" x2="297.4" y2="21.41" stroke="#000" stroke-width="0.9"/>
<line x1="294.2" y1="18.59" x2="297.4" y2="18.59" stroke="#000" stroke-width="0.9"/>
<line x1="294.2" y1="15.94" x2="297.4" y2="15.94" stroke="#000" stroke-width="0.9"/>
<line x1="291.6" y1="43.75" x2="297.4" y2="43.75" stroke="#000" stroke-width="1.2"/>
<line x1="294.2" y1="69.45" x2="297.4" y2="69.45" stroke="#000" stroke-width="0.9"/>
<line x1="294.2" y1="65.29" x2="297.4" y2="65.29" stroke="#000" stroke-width="0.9"/>
<line x1="294.2" y1="61.48" x2="297.4" y2="61.48" stroke="#000" stroke-width="0.9"/>
<line x1="294.2" y1="57.98" x2="297.4" y2="57.98" stroke="#000" stroke-width="0.9"/>
<line x1="294.2" y1="54.74" x2="297.4" y2="54.74" stroke="#000" stroke-width="0.9"/>
<line x1="294.2" y1="51.72" x2="297.4" y2="51.72" stroke="#000" stroke-width="0.9"/>
<line x1="294.2" y1="48.90" x2="297.4" y2="48.90" stroke="#000" stroke-width="0.9"/>
<line x1="294.2" y1="46.25" x2="297.4" y2="46.25" stroke="#000" stroke-width="0.9"/>
<line x1="291.6" y1="74.06" x2="297.4" y2="74.06" stroke="#000" stroke-width="1.2"/>
<line x1="294.2" y1="99.76" x2="297.4" y2="99.76" stroke="#000" stroke-width="0.9"/>
<line x1="294.2" y1="95.60" x2="297.4" y2="95.60" stroke="#000" stroke-width="0.9"/>
<line x1="294.2" y1="91.79" x2="297.4" y2="91.79" stroke="#000" stroke-width="0.9"/>
<line x1="294.2" y1="88.29" x2="297.4" y2="88.29" stroke="#000" stroke-width="0.9"/>
<line x1="294.2" y1="85.05" x2="297.4" y2="85.05" stroke="#000" stroke-width="0.9"/>
<line x1="294.2" y1="82.03" x2="297.4" y2="82.03" stroke="#000" stroke-width="0.9"/>
<line x1="294.2" y1="79.21" x2="297.4" y2="79.21" stroke="#000" stroke-width="0.9"/>
<line x1="294.2" y1="76.56" x2="297.4" y2="76.56" stroke="#000" stroke-width="0.9"/>
<line x1="291.6" y1="104.37" x2="297.4" y2="104.37" stroke="#000" stroke-width="1.2"/>
<line x1="294.2" y1="130.07" x2="297.4" y2="130.07" stroke="#000" stroke-width="0.9"/>
<line x1="294.2" y1="125.91" x2="297.4" y2="125.91" stroke="#000" stroke-width="0.9"/>
<line x1="294.2" y1="122.10" x2="297.4" y2="122.10" stroke="#000" stroke-width="0.9"/>
<line x1="294.2" y1="118.60" x2="297.4" y2="118.60" stroke="#000" stroke-width="0.9"/>
<line x1="294.2" y1="115.36" x2="297.4" y2="115.36" stroke="#000" stroke-width="0.9"/>
<line x1="294.2" y1="112.34" x2="297.4" y2="112.34" stroke="#000" stroke-width="0.9"/>
<line x1="294.2" y1="109.52" x2="297.4" y2="109.52" stroke="#000" stroke-width="0.9"/>
<line x1="294.2" y1="106.87" x2="297.4" y2="106.87" stroke="#000" stroke-width="0.9"/>
<line x1="291.6" y1="134.68" x2="297.4" y2="134.68" stroke="#000" stroke-width="1.2"/>
<line x1="294.2" y1="160.38" x2="297.4" y2="160.38" stroke="#000" stroke-width="0.9"/>
<line x1="294.2" y1="156.22" x2="297.4" y2="156.22" stroke="#000" stroke-width="0.9"/>
<line x1="294.2" y1="152.41" x2="297.4" y2="152.41" stroke="#000" stroke-width="0.9"/>
<line x1="294.2" y1="148.91" x2="297.4" y2="148.91" stroke="#000" stroke-width="0.9"/>
<line x1="294.2" y1="145.67" x2="297.4" y2="145.67" stroke="#000" stroke-width="0.9"/>
<line x1="294.2" y1="142.65" x2="297.4" y2="142.65" stroke="#000" stroke-width="0.9"/>
<line x1="294.2" y1="139.83" x2="297.4" y2="139.83" stroke="#000" stroke-width="0.9"/>
<line x1="294.2" y1="137.18" x2="297.4" y2="137.18" stroke="#000" stroke-width="0.9"/>
<line x1="291.6" y1="164.99" x2="297.4" y2="164.99" stroke="#000" stroke-width="1.2"/>
<line x1="294.2" y1="190.69" x2="297.4" y2="190.69" stroke="#000" stroke-width="0.9"/>
<line x1="294.2" y1="186.53" x2="297.4" y2="186.53" stroke="#000" stroke-width="0.9"/>
<line x1="294.2" y1="182.72" x2="297.4" y2="182.72" stroke="#000" stroke-width="0.9"/>
<line x1="294.2" y1="179.22" x2="297.4" y2="179.22" stroke="#000" stroke-width="0.9"/>
<line x1="294.2" y1="175.98" x2="297.4" y2="175.98" stroke="#000" stroke-width="0.9"/>
<line x1="294.2" y1="172.96" x2="297.4" y2="172.96" stroke="#000" stroke-width="0.9"/>
<line x1="294.2" y1="170.14" x2="297.4" y2="170.14" stroke="#000" stroke-width="0.9"/>
<line x1="294.2" y1="167.49" x2="297.4" y2="167.49" stroke="#000" stroke-width="0.9"/>
<line x1="291.6" y1="195.30" x2="297.4" y2="195.30" stroke="#000" stroke-width="1.2"/>
<line x1="294.2" y1="221.00" x2="297.4" y2="221.00" stroke="#000" stroke-width="0.9"/>
<line x1="294.2" y1="216.84" x2="297.4" y2="216.84" stroke="#000" stroke-width="0.9"/>
<line x1="294.2" y1="213.03" x2="297.4" y2="213.03" stroke="#000" stroke-width="0.9"/>
<line x1="294.2" y1="209.53" x2="297.4" y2="209.53" stroke="#000" stroke-width="0.9"/>
<line x1="294.2" y1="206.29" x2="297.4" y2="206.29" stroke="#000" stroke-width="0.9"/>
<line x1="294.2" y1="203.27" x2="297.4" y2="203.27" stroke="#000" stroke-width="0.9"/>
<line x1="294.2" y1="200.45" x2="297.4" y2="200.45" stroke="#000" stroke-width="0.9"/>
<line x1="294.2" y1="197.80" x2="297.4" y2="197.80" stroke="#000" stroke-width="0.9"/>
<line x1="291.6" y1="225.61" x2="297.4" y2="225.61" stroke="#000" stroke-width="1.2"/>
<line x1="294.2" y1="251.31" x2="297.4" y2="251.31" stroke="#000" stroke-width="0.9"/>
<line x1="294.2" y1="247.15" x2="297.4" y2="247.15" stroke="#000" stroke-width="0.9"/>
<line x1="294.2" y1="243.34" x2="297.4" y2="243.34" stroke="#000" stroke-width="0.9"/>
<line x1="294.2" y1="239.84" x2="297.4" y2="239.84" stroke="#000" stroke-width="0.9"/>
<line x1="294.2" y1="236.60" x2="297.4" y2="236.60" stroke="#000" stroke-width="0.9"/>
<line x1="294.2" y1="233.58" x2="297.4" y2="233.58" stroke="#000" stroke-width="0.9"/>
<line x1="294.2" y1="230.76" x2="297.4" y2="230.76" stroke="#000" stroke-width="0.9"/>
<line x1="294.2" y1="228.11" x2="297.4" y2="228.11" stroke="#000" stroke-width="0.9"/>
<line x1="291.6" y1="255.92" x2="297.4" y2="255.92" stroke="#000" stroke-width="1.2"/>
<line x1="294.2" y1="281.62" x2="297.4" y2="281.62" stroke="#000" stroke-width="0.9"/>
<line x1="294.2" y1="277.46" x2="297.4" y2="277.46" stroke="#000" stroke-width="0.9"/>
<line x1="294.2" y1="273.65" x2="297.4" y2="273.65" stroke="#000" stroke-width="0.9"/>
<line x1="294.2" y1="270.15" x2="297.4" y2="270.15" stroke="#000" stroke-width="0.9"/>
<line x1="294.2" y1="266.91" x2="297.4" y2="266.91" stroke="#000" stroke-width="0.9"/>
<line x1="294.2" y1="263.89" x2="297.4" y2="263.89" stroke="#000" stroke-width="0.9"/>
<line x1="294.2" y1="261.07" x2="297.4" y2="261.07" stroke="#000" stroke-width="0.9"/>
<line x1="294.2" y1="258.42" x2="297.4" y2="258.42" stroke="#000" stroke-width="0.9"/>
<line x1="291.6" y1="286.23" x2="297.4" y2="286.23" stroke="#000" stroke-width="1.2"/>
<line x1="294.2" y1="311.93" x2="297.4" y2="311.93" stroke="#000" stroke-width="0.9"/>
<line x1="294.2" y1="307.77" x2="297.4" y2="307.77" stroke="#000" stroke-width="0.9"/>
<line x1="294.2" y1="303.96" x2="297.4" y2="303.96" stroke="#000" stroke-width="0.9"/>
<line x1="294.2" y1="300.46" x2="297.4" y2="300.46" stroke="#000" stroke-width="0.9"/>
<line x1="294.2" y1="297.22" x2="297.4" y2="297.22" stroke="#000" stroke-width="0.9"/>
<line x1="294.2" y1="294.20" x2="297.4" y2="294.20" stroke="#000" stroke-width="0.9"/>
<line x1="294.2" y1="291.38" x2="297.4" y2="291.38" stroke="#000" stroke-width="0.9"/>
<line x1="294.2" y1="288.73" x2="297.4" y2="288.73" stroke="#000" stroke-width="0.9"/>
<line x1="291.6" y1="316.54" x2="297.4" y2="316.54" stroke="#000" stroke-width="1.2"/>
<text x="288.3" y="17.04" text-anchor="end" class="t12">64</text>
<text x="288.3" y="77.66" text-anchor="end" class="t12">16</text>
<text x="288.3" y="138.28" text-anchor="end" class="t12">4</text>
<text x="288.3" y="198.90" text-anchor="end" class="t12">1</text>
<text x="288.3" y="259.52" text-anchor="end" class="t12">0.25</text>
<text x="288.3" y="320.14" text-anchor="end" class="t12">0.0625</text>
<line x1="297.4" y1="195.2" x2="684.5" y2="195.2" stroke="#000" stroke-width="1.2"/>
<line x1="307.6" y1="316.5" x2="383.2" y2="316.5" stroke="#000" stroke-width="1.2"/>
<text x="345.40" y="329.9" text-anchor="middle" class="t12">Control</text>
<line x1="404.2" y1="316.5" x2="479.6" y2="316.5" stroke="#000" stroke-width="1.2"/>
<text x="441.90" y="329.9" text-anchor="middle" class="t12">Benz</text>
<line x1="501" y1="316.5" x2="577" y2="316.5" stroke="#000" stroke-width="1.2"/>
<text x="539.00" y="329.9" text-anchor="middle" class="t12">Tolf</text>
<line x1="598" y1="316.5" x2="673.3" y2="316.5" stroke="#000" stroke-width="1.2"/>
<text x="635.65" y="329.9" text-anchor="middle" class="t12">Benz+Tolf</text>
<polyline points="345.7,60 345.7,53.1 635.8,53.1 635.8,128.5" fill="none" stroke="#bdbdbd" stroke-width="1"/>
<text x="474.2" y="47.5" class="tp">p&lt;0.05</text>
<polygon points="312.40,197.6 322.20,197.6 317.30,189.29999999999998" class="m"/>
<polygon points="312.90,197.6 322.70,197.6 317.80,189.29999999999998" class="m"/>
<polygon points="313.70,197.6 323.50,197.6 318.60,189.29999999999998" class="m"/>
<polygon points="314.50,197.6 324.30,197.6 319.40,189.29999999999998" class="m"/>
<polygon points="315.30,197.6 325.10,197.6 320.20,189.29999999999998" class="m"/>
<polygon points="316.10,197.6 325.90,197.6 321.00,189.29999999999998" class="m"/>
<polygon points="316.90,197.6 326.70,197.6 321.80,189.29999999999998" class="m"/>
<polygon points="317.70,197.6 327.50,197.6 322.60,189.29999999999998" class="m"/>
<rect x="335.3" y="114.8" width="20.50" height="32.70" class="bx"/>
<line x1="335.3" y1="119.2" x2="355.8" y2="119.2" class="ln"/>
<line x1="345.5" y1="114.8" x2="345.5" y2="90.3" class="wl"/>
<line x1="343.9" y1="90.3" x2="347.1" y2="90.3" class="wl"/>
<line x1="345.5" y1="147.5" x2="345.5" y2="195.2" class="wl"/>
<rect x="339.85" y="66.65" width="7.9" height="7.9" class="m"/>
<rect x="342.55" y="89.05" width="7.9" height="7.9" class="m"/>
<rect x="337.55" y="110.55" width="7.9" height="7.9" class="m"/>
<rect x="339.85" y="115.25" width="7.9" height="7.9" class="m"/>
<rect x="341.65" y="127.55" width="7.9" height="7.9" class="m"/>
<rect x="341.75" y="143.65" width="7.9" height="7.9" class="m"/>
<rect x="342.75" y="176.25" width="7.9" height="7.9" class="m"/>
<rect x="341.75" y="198.05" width="7.9" height="7.9" class="m"/>
<rect x="360.4" y="103.3" width="20.60" height="69.40" class="bx"/>
<line x1="360.4" y1="145.4" x2="381" y2="145.4" class="ln"/>
<line x1="370.6" y1="103.3" x2="370.6" y2="92.8" class="wl"/>
<line x1="369.0" y1="92.8" x2="372.20000000000005" y2="92.8" class="wl"/>
<line x1="370.6" y1="172.7" x2="370.6" y2="251.7" class="wl"/>
<line x1="369.0" y1="251.7" x2="372.20000000000005" y2="251.7" class="wl"/>
<circle cx="369.80" cy="70.30" r="4.6" class="m"/>
<circle cx="371.00" cy="102.30" r="4.6" class="m"/>
<circle cx="371.20" cy="104.00" r="4.6" class="m"/>
<circle cx="368.40" cy="116.50" r="4.6" class="m"/>
<circle cx="369.80" cy="139.00" r="4.6" class="m"/>
<circle cx="369.80" cy="152.50" r="4.6" class="m"/>
<circle cx="369.80" cy="157.50" r="4.6" class="m"/>
<circle cx="372.50" cy="171.50" r="4.6" class="m"/>
<circle cx="372.50" cy="175.00" r="4.6" class="m"/>
<circle cx="369.20" cy="187.00" r="4.6" class="m"/>
<rect x="369.20" y="121.20" width="2.6" height="2.6" fill="none" stroke="#c4c4c4" stroke-width="0.7"/>
<polygon points="409.50,197.6 419.30,197.6 414.40,189.29999999999998" class="m"/>
<polygon points="410.10,197.6 419.90,197.6 415.00,189.29999999999998" class="m"/>
<polygon points="410.70,197.6 420.50,197.6 415.60,189.29999999999998" class="m"/>
<polygon points="411.30,197.6 421.10,197.6 416.20,189.29999999999998" class="m"/>
<polygon points="411.90,197.6 421.70,197.6 416.80,189.29999999999998" class="m"/>
<polygon points="412.50,197.6 422.30,197.6 417.40,189.29999999999998" class="m"/>
<polygon points="413.10,197.6 422.90,197.6 418.00,189.29999999999998" class="m"/>
<polygon points="409.50,197.6 419.30,197.6 414.40,189.29999999999998" class="m"/>
<rect x="432" y="145" width="20.40" height="62.40" class="bx"/>
<line x1="432" y1="182.5" x2="452.4" y2="182.5" class="ln"/>
<line x1="441.8" y1="145" x2="441.8" y2="122.5" class="wl"/>
<line x1="440.2" y1="122.5" x2="443.40000000000003" y2="122.5" class="wl"/>
<rect x="438.35" y="103.05" width="7.9" height="7.9" class="m"/>
<rect x="436.95" y="107.45" width="7.9" height="7.9" class="m"/>
<rect x="437.85" y="141.05" width="7.9" height="7.9" class="m"/>
<rect x="441.25" y="172.35" width="7.9" height="7.9" class="m"/>
<rect x="440.35" y="179.35" width="7.9" height="7.9" class="m"/>
<rect x="439.05" y="199.55" width="7.9" height="7.9" class="m"/>
<rect x="439.05" y="203.85" width="7.9" height="7.9" class="m"/>
<rect x="438.25" y="226.85" width="7.9" height="7.9" class="m"/>
<rect x="436.65" y="258.85" width="7.9" height="7.9" class="m"/>
<rect x="440.50" y="153.70" width="2.6" height="2.6" fill="none" stroke="#c4c4c4" stroke-width="0.7"/>
<rect x="457.4" y="102.2" width="20.30" height="36.80" class="bx"/>
<line x1="457.4" y1="136.3" x2="477.7" y2="136.3" class="ln"/>
<line x1="467" y1="102.2" x2="467" y2="100.6" class="wl"/>
<line x1="465.4" y1="100.6" x2="468.6" y2="100.6" class="wl"/>
<line x1="467" y1="139" x2="467" y2="155.6" class="wl"/>
<line x1="465.4" y1="155.6" x2="468.6" y2="155.6" class="wl"/>
<circle cx="463.60" cy="92.10" r="4.6" class="m"/>
<circle cx="470.10" cy="101.80" r="4.6" class="m"/>
<circle cx="468.40" cy="109.80" r="4.6" class="m"/>
<circle cx="466.60" cy="135.50" r="4.6" class="m"/>
<circle cx="466.60" cy="138.50" r="4.6" class="m"/>
<circle cx="467.00" cy="137.00" r="4.6" class="m"/>
<circle cx="472.30" cy="160.70" r="4.6" class="m"/>
<rect x="465.70" y="118.60" width="2.6" height="2.6" fill="none" stroke="#c4c4c4" stroke-width="0.7"/>
<polygon points="505.60,197.6 515.40,197.6 510.50,189.29999999999998" class="m"/>
<polygon points="507.50,197.6 517.30,197.6 512.40,189.29999999999998" class="m"/>
<polygon points="507.50,197.6 517.30,197.6 512.40,189.29999999999998" class="m"/>
<polygon points="507.50,197.6 517.30,197.6 512.40,189.29999999999998" class="m"/>
<polygon points="510.60,197.6 520.40,197.6 515.50,189.29999999999998" class="m"/>
<polygon points="510.60,197.6 520.40,197.6 515.50,189.29999999999998" class="m"/>
<polygon points="510.60,197.6 520.40,197.6 515.50,189.29999999999998" class="m"/>
<rect x="528.5" y="136.9" width="20.30" height="47.50" class="bx"/>
<line x1="528.5" y1="181" x2="548.8" y2="181" class="ln"/>
<line x1="538.7" y1="136.9" x2="538.7" y2="124.5" class="wl"/>
<line x1="537.1" y1="124.5" x2="540.3000000000001" y2="124.5" class="wl"/>
<line x1="538.7" y1="184.4" x2="538.7" y2="287.4" class="wl"/>
<line x1="537.1" y1="287.4" x2="540.3000000000001" y2="287.4" class="wl"/>
<rect x="534.65" y="105.05" width="7.9" height="7.9" class="m"/>
<rect x="534.65" y="114.35" width="7.9" height="7.9" class="m"/>
<rect x="533.75" y="132.95" width="7.9" height="7.9" class="m"/>
<rect x="534.05" y="169.65" width="7.9" height="7.9" class="m"/>
<rect x="535.15" y="179.05" width="7.9" height="7.9" class="m"/>
<rect x="535.85" y="181.05" width="7.9" height="7.9" class="m"/>
<rect x="535.55" y="208.05" width="7.9" height="7.9" class="m"/>
<rect x="537.05" y="265.35" width="7.9" height="7.9" class="m"/>
<rect x="537.60" y="152.50" width="2.6" height="2.6" fill="none" stroke="#c4c4c4" stroke-width="0.7"/>
<rect x="553.6" y="115.3" width="20.40" height="28.20" class="bx"/>
<line x1="553.6" y1="127.5" x2="574" y2="127.5" class="ln"/>
<line x1="563.8" y1="115.3" x2="563.8" y2="110.9" class="wl"/>
<line x1="562.1999999999999" y1="110.9" x2="565.4" y2="110.9" class="wl"/>
<circle cx="566.90" cy="100.30" r="4.6" class="m"/>
<circle cx="563.90" cy="107.70" r="4.6" class="m"/>
<circle cx="563.90" cy="122.50" r="4.6" class="m"/>
<circle cx="564.50" cy="124.50" r="4.6" class="m"/>
<circle cx="563.90" cy="131.00" r="4.6" class="m"/>
<circle cx="563.90" cy="141.70" r="4.6" class="m"/>
<circle cx="564.20" cy="145.50" r="4.6" class="m"/>
<circle cx="565.00" cy="147.50" r="4.6" class="m"/>
<polygon points="603.50,197.6 613.30,197.6 608.40,189.29999999999998" class="m"/>
<polygon points="603.50,197.6 613.30,197.6 608.40,189.29999999999998" class="m"/>
<polygon points="603.50,197.6 613.30,197.6 608.40,189.29999999999998" class="m"/>
<polygon points="605.50,197.6 615.30,197.6 610.40,189.29999999999998" class="m"/>
<polygon points="605.50,197.6 615.30,197.6 610.40,189.29999999999998" class="m"/>
<polygon points="605.50,197.6 615.30,197.6 610.40,189.29999999999998" class="m"/>
<polygon points="608.40,197.6 618.20,197.6 613.30,189.29999999999998" class="m"/>
<rect x="625.4" y="179.2" width="20.30" height="20.50" class="bx"/>
<line x1="625.4" y1="191.6" x2="645.7" y2="191.6" class="ln"/>
<line x1="635.5" y1="179.2" x2="635.5" y2="156.9" class="wl"/>
<line x1="633.9" y1="156.9" x2="637.1" y2="156.9" class="wl"/>
<line x1="635.5" y1="199.7" x2="635.5" y2="238" class="wl"/>
<line x1="633.9" y1="238" x2="637.1" y2="238" class="wl"/>
<rect x="628.75" y="136.05" width="7.9" height="7.9" class="m"/>
<rect x="631.05" y="152.05" width="7.9" height="7.9" class="m"/>
<rect x="631.75" y="174.05" width="7.9" height="7.9" class="m"/>
<rect x="632.35" y="179.35" width="7.9" height="7.9" class="m"/>
<rect x="634.35" y="187.25" width="7.9" height="7.9" class="m"/>
<rect x="630.35" y="193.55" width="7.9" height="7.9" class="m"/>
<rect x="630.35" y="195.55" width="7.9" height="7.9" class="m"/>
<rect x="629.95" y="209.55" width="7.9" height="7.9" class="m"/>
<rect x="630.05" y="262.45" width="7.9" height="7.9" class="m"/>
<rect x="650.6" y="148" width="20.40" height="43.80" class="bx"/>
<line x1="650.6" y1="168.7" x2="671" y2="168.7" class="ln"/>
<line x1="660.5" y1="148" x2="660.5" y2="143" class="wl"/>
<line x1="658.9" y1="143" x2="662.1" y2="143" class="wl"/>
<line x1="660.5" y1="191.8" x2="660.5" y2="204" class="wl"/>
<line x1="658.9" y1="204" x2="662.1" y2="204" class="wl"/>
<circle cx="659.30" cy="136.50" r="4.6" class="m"/>
<circle cx="663.40" cy="138.30" r="4.6" class="m"/>
<circle cx="659.00" cy="148.00" r="4.6" class="m"/>
<circle cx="659.80" cy="157.40" r="4.6" class="m"/>
<circle cx="659.80" cy="169.20" r="4.6" class="m"/>
<circle cx="657.50" cy="188.30" r="4.6" class="m"/>
<circle cx="663.80" cy="191.50" r="4.6" class="m"/>
<circle cx="660.50" cy="194.80" r="4.6" class="m"/>
<circle cx="658.70" cy="225.50" r="4.6" class="m"/>
</svg>
</body></html>
